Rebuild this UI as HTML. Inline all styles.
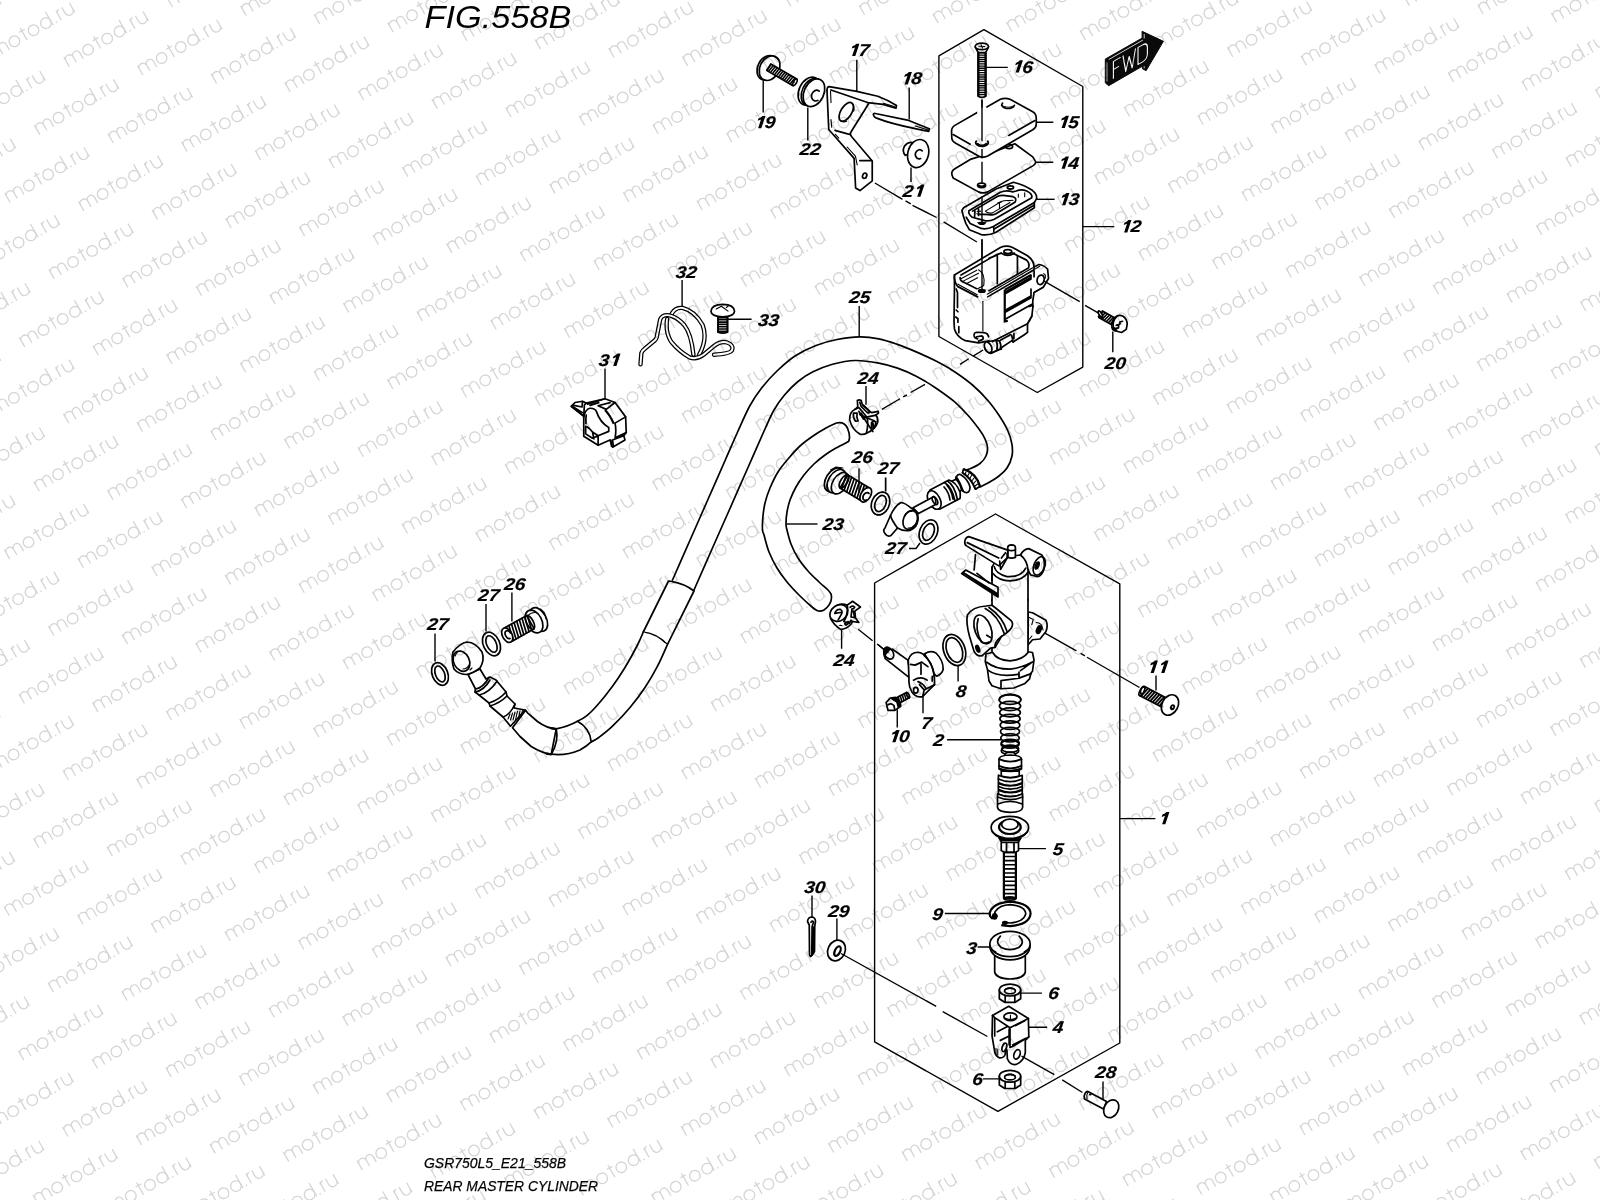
<!DOCTYPE html>
<html><head><meta charset="utf-8"><title>FIG.558B REAR MASTER CYLINDER</title>
<style>
html,body{margin:0;padding:0;background:#fff;}
body{width:1600px;height:1200px;overflow:hidden;font-family:"Liberation Sans",sans-serif;}
svg{display:block;position:absolute;left:0;top:0;}
svg text{font-family:"Liberation Sans",sans-serif;}
.l{fill:none;stroke:#000;stroke-width:1.4;stroke-linecap:butt;stroke-linejoin:round;}
.p{fill:none;stroke:#000;stroke-width:1.7;stroke-linecap:round;stroke-linejoin:round;}
.pf{fill:#fff;stroke:#000;stroke-width:1.7;stroke-linecap:round;stroke-linejoin:round;}
.p2{fill:none;stroke:#000;stroke-width:2.2;stroke-linecap:butt;}
.t4{fill:none;stroke:#000;stroke-width:1.8;stroke-linecap:butt;}
.t3{fill:none;stroke:#000;stroke-width:1.55;stroke-linecap:butt;}
.t2{fill:none;stroke:#000;stroke-width:1.35;stroke-linecap:butt;}
.t{fill:none;stroke:#000;stroke-width:1.1;stroke-linecap:round;stroke-linejoin:round;}
.k{fill:#000;stroke:none;}
.n{font-weight:bold;font-style:italic;font-size:17px;fill:#000;stroke:#000;stroke-width:0.18;}
.z *{vector-effect:non-scaling-stroke;}
</style></head><body>
<svg width="1600" height="1200" viewBox="0 0 1600 1200">
<defs>
<g id="wm" fill="none" stroke="#d5d5d5" stroke-width="1.3" stroke-linecap="butt">
<path d="M0,0V-11 M0,-6.6a4.1,4.1 0 0 1 8.2,0V0 M8.2,-6.6a3.9,3.9 0 0 1 7.8,0V0"/>
<circle cx="24.7" cy="-5.3" r="5.3"/>
<path d="M36.3,0V-14 M33.2,-10.6H39.6"/>
<circle cx="46.8" cy="-5.3" r="5.3"/>
<circle cx="61" cy="-5.3" r="5.3"/>
<path d="M66.3,0V-15.4"/>
<path d="M70.6,-1.4V0" stroke-width="1.5"/>
<path d="M75.9,0V-11 M75.9,-7.2c0,-2.6 1.4,-3.6 3.4,-3.6"/>
<path d="M82.6,-11V-4.4a4.4,4.4 0 0 0 8.8,0V-11 M91.4,-4.4V0"/>
</g>
</defs>
<rect width="1600" height="1200" fill="#fff"/>
<g id="drawing" style="opacity:0.999">
<text x="424.5" y="28" font-style="italic" font-size="32" textLength="147" lengthAdjust="spacingAndGlyphs">FIG.558B</text>
<text x="424" y="1168" font-style="italic" font-size="15.5" stroke="#000" stroke-width="0.25" textLength="142" lengthAdjust="spacingAndGlyphs">GSR750L5_E21_558B</text>
<text x="424" y="1190.8" font-style="italic" font-size="15.5" stroke="#000" stroke-width="0.25" textLength="174" lengthAdjust="spacingAndGlyphs">REAR MASTER CYLINDER</text>

<path class="l" d="M983.9,29.6 L938.9,55.9 V336.5 L1037.3,392.5 L1082.8,367.1 V86.5 Z"/><path d="M1105.3,59.1 L1142.1,38.1 V31.3 L1163.4,41.3 L1146.1,70.7 L1142.4,68.7 V66.2 L1108.7,85.7 L1105.3,82.9 Z" fill="#0a0a0a" stroke="#0a0a0a" stroke-width="1" stroke-linejoin="round"/><path d="M1107,62.5 V81.5" stroke="#bbb" stroke-width="0.9" fill="none"/><path d="M1108.8,59.5 L1143,40 M1144.2,34 V38.5 M1144.2,66.3 V68.2" stroke="#fff" stroke-width="0.8" fill="none"/><g transform="translate(1112.4,79) skewY(-29.6)" fill="none" stroke="#fff" stroke-width="1.1" stroke-linecap="round" stroke-linejoin="round"><path d="M1,0 V-17 H7.8 M1,-9 H6.2 M10.6,-17 L13.4,0 L16.7,-13 L19.8,0 L23,-17 M25.6,0 V-17 H30 Q35,-17 35,-11.5 V-5.5 Q35,0 30,0 Z"/></g>
<path class="l" d="M995.5,514 L874.6,583 V1041.8 L997.9,1111.3 L1119.8,1043 V583.9 Z"/><path class="l" d="M1120,818.6 H1155.4"/><g transform="translate(1157.7,824.3) skewX(-7)"><path transform="translate(0,0) skewX(-12)" d="M4.6,-12.3 H7.6 V0 H4.4 V-8.6 L1.5,-7.4 V-9.7 Q3.8,-10.6 4.6,-12.3 Z" fill="#000"/></g>
<g class="z " transform="translate(740,40) scale(0.0875)">
<ellipse class="pf" cx="313" cy="318" rx="110" ry="148" transform="rotate(28 313 318)"/><ellipse class="pf" cx="338" cy="322" rx="110" ry="148" transform="rotate(28 338 322)"/><path class="t" d="M372,183 Q425,200 440,235"/><path class="pf" d="M308.005,350.108 L606.005,522.108 L649.995,445.892 L351.995,273.892 Z"/><path class="t3" d="M302.3,346.8 L357.7,277.2 M324.8,359.8 L380.2,290.2 M347.3,372.8 L402.7,303.2 M369.8,385.8 L425.3,316.2 M392.4,398.8 L447.8,329.2 M414.9,411.8 L470.3,342.2 M437.4,424.8 L492.8,355.2 M459.9,437.8 L515.3,368.2 M482.4,450.8 L537.9,381.2 M505.0,463.8 L560.4,394.2 M527.5,476.8 L582.9,407.2 M550.0,489.8 L605.4,420.2 M572.5,502.8 L627.9,433.2 M595.0,515.8 L650.4,446.2 "/><ellipse class="pf" cx="628" cy="484" rx="18" ry="42" transform="rotate(30 628 484)"/><path class="t" d="M600,470 L622,482"/><ellipse class="pf" cx="790" cy="585" rx="115" ry="168" transform="rotate(25 790 585)"/><ellipse class="pf" cx="822" cy="596" rx="112" ry="165" transform="rotate(25 822 596)"/><ellipse class="pf" cx="845" cy="603" rx="113" ry="166" transform="rotate(25 845 603)"/><path class="p" d="M905,585 A52,62 20 1 0 890,690"/>
</g>

<g class="z " transform="translate(820,70) scale(0.0875)">
<path class="p" d="M80,235 Q80,190 105,190 L420,245 L660,300 Q780,345 875,405 L868,437 Q780,410 720,393 L545,372 L125,228"/><path class="t" d="M725,380 L858,421"/><path class="p" d="M80,235 L100,680 L390,1010 L407,1348 L457,1378 L597,1268 L597,1040 L360,760 Q338,732 352,712 L555,385"/><path class="t" d="M120,240 L126,372 M126,565 L134,655 M175,735 L215,778 M310,880 L405,985 L425,1085"/><path class="p" d="M172,690 L335,735 M455,1035 L590,1035"/><ellipse class="p" cx="300" cy="478" rx="62" ry="120" transform="rotate(32 300 478)"/><path class="t" d="M368,385 Q400,420 385,470 M240,585 Q270,600 305,585"/><ellipse class="p" cx="510" cy="1208" rx="22" ry="32" transform="rotate(25 510 1208)"/><path class="t" d="M535,1190 Q545,1215 525,1240"/><path class="p" d="M612,515 Q603,493 632,497 L1000,572 L1250,672 L1243,702 L1100,672 Q800,612 640,547 Q615,535 612,515 Z"/><path class="t" d="M1090,641 L1238,687"/><path class="pf" d="M1065,832 Q1010,815 965,870 Q935,930 975,975 L1005,965"/><ellipse class="pf" cx="1122" cy="955" rx="118" ry="163" transform="rotate(15 1122 955)"/><path class="p" d="M1168,925 A45,52 15 1 0 1150,1012"/>
</g>

<g class="z " transform="translate(940,35) scale(0.0875)">
<path class="l" d="M480,742 V1210"/><path class="pf" d="M437,200 V700 Q480,725 522,700 V200 Z"/><path class="t2" d="M439.0,205.0 L521.0,205.0 M439.0,230.0 L521.0,230.0 M439.0,255.0 L521.0,255.0 M439.0,280.0 L521.0,280.0 M439.0,305.0 L521.0,305.0 M439.0,330.0 L521.0,330.0 M439.0,355.0 L521.0,355.0 M439.0,380.0 L521.0,380.0 M439.0,405.0 L521.0,405.0 M439.0,430.0 L521.0,430.0 M439.0,455.0 L521.0,455.0 M439.0,480.0 L521.0,480.0 M439.0,505.0 L521.0,505.0 M439.0,530.0 L521.0,530.0 M439.0,555.0 L521.0,555.0 M439.0,580.0 L521.0,580.0 M439.0,605.0 L521.0,605.0 M439.0,630.0 L521.0,630.0 M439.0,655.0 L521.0,655.0 M439.0,680.0 L521.0,680.0 "/><path class="p2" d="M438,200 V702 M521,200 V702"/><path class="pf" d="M403,135 Q420,175 440,200 H520 Q540,175 555,135 Z"/><ellipse class="pf" cx="478" cy="130" rx="76" ry="38"/><path class="t" d="M445,128 L512,132 M470,112 L486,148"/>
</g>

<g class="z " transform="translate(940,100) scale(0.0875)">
<path class="pf" d="M355,675 L170,785 Q128,810 135,850 L150,892 L440,1050 Q490,1075 545,1050 L1065,750 Q1108,722 1085,690 L1060,650 L855,500 L600,600 Z"/><ellipse class="p" cx="790" cy="532" rx="40" ry="24"/><ellipse class="p" cx="475" cy="975" rx="46" ry="26"/><path class="p" d="M440,975 Q475,1000 512,975"/><path class="pf" d="M520,88 L690,-8 Q745,-30 800,-8 L1060,135 Q1100,160 1100,205 V280 Q1100,315 1060,340 L545,640 Q490,665 440,640 L180,495 Q138,470 135,440 L132,360 Q130,315 170,290 L430,140 Z"/><path d="M425,100 L530,75 L530,160 L425,160Z" fill="#fff" stroke="none"/><path class="p" d="M150,395 L345,505 M1085,235 L785,405"/><path class="p" d="M545,470 A72,42 0 1 1 415,470 M430,500 Q478,540 528,500"/><path class="p" d="M850,60 A72,42 0 1 1 715,35"/><path class="t" d="M728,70 Q780,95 832,70"/><path class="l" d="M480,-10 V470 M480,560 V668 M480,705 V950"/>
</g>

<g class="z " transform="translate(940,170) scale(0.0875)">
<path class="pf" d="M640,218 L840,140 Q960,170 1055,232 Q1110,275 1105,325 L1078,372 L1078,432 L640,712 Q560,752 470,738 L335,682 L295,610 L268,530 L250,462 L270,432 Z"/><path class="p" d="M1078,372 L610,645 Q540,682 470,668 L345,612 L300,540 M1078,400 L625,672 M615,660 V705"/><path class="p" d="M330,465 L690,255 Q760,225 830,250 L872,240 Q930,215 990,240 Q1062,272 1048,318 L620,562 Q560,592 500,575 L368,540 Q320,502 330,465 Z"/><path class="p" d="M372,470 L660,300 Q700,285 745,292 L835,305 Q880,320 860,365 L640,500 Q600,520 560,510 L440,505 M400,455 L395,540 M440,440 L440,520"/><path class="t" d="M520,470 L700,360 Q740,345 790,350 L835,345 M520,470 Q540,500 600,490 L800,372"/><path class="t" d="M680,368 V440 M662,376 L700,366 M895,275 V312 M968,260 V305 M425,475 L465,470 M420,500 L470,512"/><ellipse class="k" cx="478" cy="608" rx="40" ry="20"/><path class="t" d="M432,600 Q478,640 525,600"/><ellipse class="p" cx="805" cy="200" rx="36" ry="18"/><path class="t" d="M775,205 Q805,225 838,205"/><path class="l" d="M480,300 V600 M480,790 V1210"/><path class="l" d="M1105,335 H1310"/>
</g>

<g class="z " transform="translate(940,240) scale(0.0875)">
<path class="pf" d="M165,400 L690,85 Q760,55 830,85 L1000,180 Q1075,235 1075,310 L1130,280 Q1185,285 1230,332 L1240,440 L1180,540 L1075,600 L1060,700 L1062,760 L1050,870 L1000,958 L1000,1056 L960,1086 L835,1166 L822,1150 L700,1232 Q705,1260 690,1246 L580,1296 Q540,1290 515,1250 L560,1152 L440,1176 L290,1151 Q190,1106 165,1016 L160,936 L165,560 Z"/><path class="p" d="M545,650 L1075,340 M1075,310 V420 M430,650 L200,530 Q158,470 165,400"/><path class="p" d="M230,430 Q225,470 290,492 L420,556 M560,580 L1010,320 Q1032,270 990,230 L830,150 M240,400 L640,170 L700,150 M560,210 L655,170"/><path class="t" d="M540,620 L1060,318 M205,505 L425,625"/><path class="p" d="M655,170 V500 M885,180 V392 M700,150 Q775,200 850,150"/><path class="t" d="M245,440 L420,345 M265,470 L440,380 M300,500 L430,432 M440,340 Q520,380 500,520 L430,556"/><ellipse class="p" cx="775" cy="135" rx="45" ry="24"/><path class="t" d="M735,140 Q775,165 818,140"/><ellipse class="k" cx="478" cy="582" rx="46" ry="25"/><path class="l" d="M480,-10 V570"/><path class="t" d="M490,700 V1040"/><path class="p" d="M185,560 L200,600 V770 M185,800 L205,820 M180,880 L205,900 V940 M215,990 V1060"/><path class="p2" d="M740,570 L1040,400 M740,570 V930 L775,925"/><path class="p" d="M750,592 L1040,427 M750,612 L1040,447 M750,800 L1040,640 M750,822 L1040,660 M750,902 L1050,735 M1040,400 V440 M1040,560 V660"/><path class="p" d="M1020,760 Q1060,740 1062,760 M1050,870 L1000,958 L600,1160"/><ellipse class="p" cx="1150" cy="455" rx="40" ry="55" transform="rotate(15 1150 455)"/><path class="t" d="M1180,540 L1075,600 M1140,300 L1090,330 M1185,385 Q1215,395 1200,440"/><path class="p" d="M555,1106 Q545,1061 500,1058 L420,1054 Q385,1058 390,1096 Q395,1126 430,1131 M420,1106 L480,1096 Q500,1106 490,1136 L440,1156"/><ellipse class="pf" cx="550" cy="1226" rx="38" ry="64" transform="rotate(-25 550 1226)"/><path class="p" d="M560,1160 L640,1146 L680,1156 Q705,1206 690,1246 L585,1292 M640,1146 Q665,1200 650,1262 M690,1146 L810,1081 M845,1066 V1126 M820,1090 L835,1166"/>
</g>

<g class="z " transform="translate(1060,270) scale(0.0625)">
<path class="pf" d="M620.539,760.269 L840.539,884.269 L899.461,779.731 L679.461,655.731 Z"/><path class="t3" d="M607.5,752.9 L692.5,663.1 M640.6,771.6 L725.6,681.8 M673.7,790.2 L758.7,700.4 M706.8,808.9 L791.8,719.1 M739.9,827.5 L824.9,737.7 M773.0,846.2 L858.0,756.4 M806.1,864.9 L891.2,775.0 "/><ellipse class="pf" cx="645" cy="705" rx="22" ry="58" transform="rotate(-30 645 705)"/><path class="pf" d="M880,760 Q935,705 1010,740 Q1075,790 1075,870 L1060,950 L985,1000 L880,972 Q820,950 830,880 Q835,800 880,760 Z"/><path class="p" d="M905,745 Q850,800 850,880 Q850,940 880,972 M900,885 L960,865 L958,832 L1000,820 M890,935 L935,925 L940,880 M870,930 L905,962"/>
</g>

<g class="z " transform="translate(630,290) scale(0.0875)">
<path d="M470,285 Q510,195 600,205 Q740,240 830,400 Q890,560 790,740" fill="none" stroke="#000" stroke-width="4.4" stroke-linecap="round" stroke-linejoin="round"/><path d="M470,285 Q510,195 600,205 Q740,240 830,400 Q890,560 790,740" fill="none" stroke="#fff" stroke-width="1.9" stroke-linecap="round" stroke-linejoin="round"/><path d="M120,850 L130,720 Q140,690 165,675 L285,575 Q300,560 305,540 L345,335 Q365,285 430,287 Q530,300 620,400 Q700,500 725,740" fill="none" stroke="#000" stroke-width="4.4" stroke-linecap="round" stroke-linejoin="round"/><path d="M120,850 L130,720 Q140,690 165,675 L285,575 Q300,560 305,540 L345,335 Q365,285 430,287 Q530,300 620,400 Q700,500 725,740" fill="none" stroke="#fff" stroke-width="1.9" stroke-linecap="round" stroke-linejoin="round"/><path d="M425,330 Q400,480 470,590 Q560,700 680,770 Q760,800 840,740 L960,640 Q1040,580 1110,600 Q1190,630 1165,690 Q1140,730 960,740" fill="none" stroke="#000" stroke-width="4.4" stroke-linecap="round" stroke-linejoin="round"/><path d="M425,330 Q400,480 470,590 Q560,700 680,770 Q760,800 840,740 L960,640 Q1040,580 1110,600 Q1190,630 1165,690 Q1140,730 960,740" fill="none" stroke="#fff" stroke-width="1.9" stroke-linecap="round" stroke-linejoin="round"/><path class="pf" d="M1006,315 L1006,480 L1114,480 L1114,315 Z"/><path class="t3" d="M1006.0,315.0 L1114.0,315.0 M1006.0,341.0 L1114.0,341.0 M1006.0,367.0 L1114.0,367.0 M1006.0,393.0 L1114.0,393.0 M1006.0,419.0 L1114.0,419.0 M1006.0,445.0 L1114.0,445.0 M1006.0,471.0 L1114.0,471.0 "/><path class="p" d="M1006,310 V482 Q1060,505 1114,482 V310"/><path class="pf" d="M925,245 Q930,168 1060,165 Q1190,168 1195,245 Q1190,302 1060,308 Q930,302 925,245 Z"/><path class="t" d="M985,218 L1045,185 L1120,242 M1100,200 L1120,185"/>
</g>

<g class="z " transform="translate(555,380) scale(0.0625)">
<path class="pf" d="M800,300 L960,360 L1130,590 L1140,840 L1100,890 L1120,960 L920,1075 L880,960 L690,1045 L460,900 L460,580 L260,420 L320,360 L440,340 L500,370 Z"/><path class="p" d="M820,470 L960,360 M960,690 L1130,590 M960,690 Q985,790 962,925 L1140,840 M920,960 L1100,890 M920,960 L935,1062 M890,960 L905,1060"/><path class="p2" d="M940,700 Q880,560 800,480"/><path class="p" d="M520,385 L800,300 M560,405 L700,362 M690,412 L880,362 M690,412 L820,470 M500,370 L470,400 L460,580"/><path class="p" d="M462,590 Q480,470 560,452 Q640,450 662,502 Q720,680 860,760 V822 L690,892 L600,832 M490,742 V862 L600,932 L690,892 M490,742 Q530,745 600,832 L622,942 M690,892 V1040 M500,560 Q490,620 495,700"/><path class="p" d="M262,422 L440,562 M282,402 L432,432 L440,345 M300,435 L440,522"/>
</g>

<path d="M672.5,580.0 C675.4,573.3 684.2,553.3 690.1,540.0 C696.0,526.7 701.8,513.3 707.7,500.0 C713.6,486.7 720.3,471.3 725.3,460.0 C730.3,448.7 733.5,441.1 737.6,432.0 C741.7,422.9 745.9,412.9 750.0,405.5 C754.1,398.1 757.5,393.2 762.0,387.5 C766.5,381.8 771.5,376.2 777.0,371.0 C782.5,365.8 788.5,360.2 795.0,356.0 C801.5,351.8 809.0,348.2 816.0,345.5 C823.0,342.8 829.8,340.9 837.0,339.5 C844.2,338.1 852.5,336.9 859.5,336.8 C866.5,336.7 872.4,337.5 878.8,338.8 C885.1,340.0 891.2,342.2 897.5,344.4 C903.8,346.6 910.0,349.2 916.2,351.9 C922.5,354.6 928.8,357.4 935.0,360.6 C941.2,363.8 947.5,367.2 953.8,371.2 C960.0,375.3 966.9,380.2 972.5,385.0 C978.1,389.8 983.1,395.0 987.5,400.0 C991.9,405.0 995.4,410.0 998.8,415.0 C1002.1,420.0 1005.3,425.2 1007.5,430.0 C1009.7,434.8 1011.1,439.4 1011.9,443.8 C1012.6,448.1 1012.8,452.0 1012.0,456.0 C1011.2,460.0 1009.2,464.7 1007.0,468.0 C1004.8,471.3 1002.2,473.5 999.0,476.0 C995.8,478.5 991.2,481.2 988.0,483.0 C984.8,484.8 981.3,486.3 980.0,487.0 L963.5,471.0 C964.6,470.6 967.2,470.0 970.0,468.8 C972.8,467.5 977.3,465.6 980.0,463.5 C982.7,461.4 984.8,458.7 986.0,456.0 C987.2,453.3 987.7,450.4 987.5,447.5 C987.3,444.6 986.5,441.9 985.0,438.8 C983.5,435.6 981.5,432.5 978.8,428.8 C976.0,425.0 972.9,420.8 968.8,416.2 C964.6,411.7 959.4,406.0 953.8,401.2 C948.1,396.5 941.2,391.7 935.0,387.5 C928.8,383.3 922.5,379.5 916.2,376.2 C910.0,373.0 903.8,370.3 897.5,368.1 C891.2,365.9 885.8,364.4 878.8,363.1 C871.7,361.8 862.7,360.3 855.0,360.5 C847.3,360.7 839.5,362.4 832.5,364.2 C825.5,366.1 818.8,368.9 813.0,371.8 C807.2,374.6 802.8,377.6 798.0,381.5 C793.2,385.4 788.5,390.2 784.5,395.0 C780.5,399.8 777.3,404.2 774.0,410.0 C770.7,415.8 769.1,420.0 764.5,430.0 C760.0,440.0 752.8,456.7 746.9,470.0 C741.0,483.3 735.1,496.7 729.3,510.0 C723.4,523.3 717.5,536.7 711.6,550.0 C705.8,563.3 696.9,583.3 694.0,590.0 Z" fill="#fff" stroke="none"/><path class="p" d="M672.5,580.0 C675.4,573.3 684.2,553.3 690.1,540.0 C696.0,526.7 701.8,513.3 707.7,500.0 C713.6,486.7 720.3,471.3 725.3,460.0 C730.3,448.7 733.5,441.1 737.6,432.0 C741.7,422.9 745.9,412.9 750.0,405.5 C754.1,398.1 757.5,393.2 762.0,387.5 C766.5,381.8 771.5,376.2 777.0,371.0 C782.5,365.8 788.5,360.2 795.0,356.0 C801.5,351.8 809.0,348.2 816.0,345.5 C823.0,342.8 829.8,340.9 837.0,339.5 C844.2,338.1 852.5,336.9 859.5,336.8 C866.5,336.7 872.4,337.5 878.8,338.8 C885.1,340.0 891.2,342.2 897.5,344.4 C903.8,346.6 910.0,349.2 916.2,351.9 C922.5,354.6 928.8,357.4 935.0,360.6 C941.2,363.8 947.5,367.2 953.8,371.2 C960.0,375.3 966.9,380.2 972.5,385.0 C978.1,389.8 983.1,395.0 987.5,400.0 C991.9,405.0 995.4,410.0 998.8,415.0 C1002.1,420.0 1005.3,425.2 1007.5,430.0 C1009.7,434.8 1011.1,439.4 1011.9,443.8 C1012.6,448.1 1012.8,452.0 1012.0,456.0 C1011.2,460.0 1009.2,464.7 1007.0,468.0 C1004.8,471.3 1002.2,473.5 999.0,476.0 C995.8,478.5 991.2,481.2 988.0,483.0 C984.8,484.8 981.3,486.3 980.0,487.0 "/><path class="p" d="M694.0,590.0 C696.9,583.3 705.8,563.3 711.6,550.0 C717.5,536.7 723.4,523.3 729.3,510.0 C735.1,496.7 741.0,483.3 746.9,470.0 C752.8,456.7 760.0,440.0 764.5,430.0 C769.1,420.0 770.7,415.8 774.0,410.0 C777.3,404.2 780.5,399.8 784.5,395.0 C788.5,390.2 793.2,385.4 798.0,381.5 C802.8,377.6 807.2,374.6 813.0,371.8 C818.8,368.9 825.5,366.1 832.5,364.2 C839.5,362.4 847.3,360.7 855.0,360.5 C862.7,360.3 871.7,361.8 878.8,363.1 C885.8,364.4 891.2,365.9 897.5,368.1 C903.8,370.3 910.0,373.0 916.2,376.2 C922.5,379.5 928.8,383.3 935.0,387.5 C941.2,391.7 948.1,396.5 953.8,401.2 C959.4,406.0 964.6,411.7 968.8,416.2 C972.9,420.8 976.0,425.0 978.8,428.8 C981.5,432.5 983.5,435.6 985.0,438.8 C986.5,441.9 987.3,444.6 987.5,447.5 C987.7,450.4 987.2,453.3 986.0,456.0 C984.8,458.7 982.7,461.4 980.0,463.5 C977.3,465.6 972.8,467.5 970.0,468.8 C967.2,470.0 964.6,470.6 963.5,471.0 "/><path class="pf" d="M668.5,581 L643.3,632 Q657,633.5 667.4,644.6 L694,591 Q684,583 668.5,581 Z"/><path d="M643.3,632.0 C642.3,634.2 640.5,639.1 637.5,645.0 C634.5,650.9 629.2,660.6 625.0,667.5 C620.8,674.4 617.1,680.0 612.5,686.2 C607.9,692.5 601.9,700.0 597.5,705.0 C593.1,710.0 589.6,713.5 586.2,716.2 C582.9,718.9 579.0,720.4 577.5,721.2 L591.2,741.9 C592.5,741.2 595.2,740.1 598.8,737.5 C602.3,734.9 607.3,731.2 612.5,726.2 C617.7,721.2 624.6,714.0 630.0,707.5 C635.4,701.0 640.4,694.4 645.0,687.5 C649.6,680.6 653.8,673.4 657.5,666.2 C661.2,659.1 665.8,648.2 667.4,644.6 Z" fill="#fff" stroke="none"/><path class="p" d="M643.3,632.0 C642.3,634.2 640.5,639.1 637.5,645.0 C634.5,650.9 629.2,660.6 625.0,667.5 C620.8,674.4 617.1,680.0 612.5,686.2 C607.9,692.5 601.9,700.0 597.5,705.0 C593.1,710.0 589.6,713.5 586.2,716.2 C582.9,718.9 579.0,720.4 577.5,721.2 "/><path class="p" d="M667.4,644.6 C665.8,648.2 661.2,659.1 657.5,666.2 C653.8,673.4 649.6,680.6 645.0,687.5 C640.4,694.4 635.4,701.0 630.0,707.5 C624.6,714.0 617.7,721.2 612.5,726.2 C607.3,731.2 602.3,734.9 598.8,737.5 C595.2,740.1 592.5,741.2 591.2,741.9 "/>
<path class="pf" d="M836.5,423.0 C834.8,423.8 829.9,425.8 826.0,428.0 C822.1,430.2 817.3,433.0 813.0,436.0 C808.7,439.0 804.2,442.2 800.0,446.0 C795.8,449.8 791.7,454.7 788.0,459.0 C784.3,463.3 781.0,467.2 778.0,472.0 C775.0,476.8 772.2,482.8 770.0,488.0 C767.8,493.2 766.2,498.0 765.0,503.0 C763.8,508.0 763.2,513.5 762.8,518.0 C762.4,522.5 762.3,527.2 762.5,530.0 C762.7,532.8 762.9,531.3 764.0,535.0 C765.1,538.7 766.8,546.5 769.0,552.0 C771.2,557.5 774.0,563.0 777.0,568.0 C780.0,573.0 783.2,577.3 787.0,582.0 C790.8,586.7 795.8,591.8 800.0,596.0 C804.2,600.2 809.2,604.6 812.0,607.0 C814.8,609.4 816.2,609.9 817.0,610.5 Q820,612 824,610 Q831,605 831.5,598 Q831.5,595 831,594 L831.0,594.0 C830.5,593.3 830.0,592.0 828.0,590.0 C826.0,588.0 822.3,585.2 819.0,582.0 C815.7,578.8 811.5,575.0 808.0,571.0 C804.5,567.0 800.8,562.5 798.0,558.0 C795.2,553.5 792.8,548.7 791.0,544.0 C789.2,539.3 787.8,533.3 787.0,530.0 C786.2,526.7 786.0,527.0 786.0,524.0 C786.0,521.0 786.3,516.0 787.0,512.0 C787.7,508.0 788.5,504.2 790.0,500.0 C791.5,495.8 793.7,491.2 796.0,487.0 C798.3,482.8 801.0,478.8 804.0,475.0 C807.0,471.2 810.5,467.3 814.0,464.0 C817.5,460.7 821.3,457.7 825.0,455.0 C828.7,452.3 832.1,450.2 836.0,448.0 C839.9,445.8 846.4,442.6 848.5,441.5 Q851,437 847.5,428 Q844,421 836.5,423Z"/><path class="l" d="M786.5,524 H817.5"/><g transform="translate(822.2,529.6) skewX(-7)"><text class="n" x="0" y="0" textLength="10.6" lengthAdjust="spacingAndGlyphs">2</text><text class="n" x="10.6" y="0" textLength="10.6" lengthAdjust="spacingAndGlyphs">3</text></g>
<path class="pf" d="M556.2,728.8 Q547,728.5 537.5,721.5 L527.5,712.8 L525.6,710.2 L512.5,727.8 L520,736.5 L531.2,746.5 Q542,753 551.2,754.4 Z"/><path class="pf" d="M577.5,721.2 Q568,726.5 556.2,728.8 Q559,741 551.4,754.2 Q566,756 580,750 Q587,746 591.2,741.9 Q590,728 577.5,721.2 Z"/><path class="p2" d="M551,728.2 L556.5,729.2 M546,753.6 L551.6,754.4"/>
<g class="z " transform="translate(420,600) scale(0.1)">
<ellipse class="pf" cx="200" cy="740" rx="78" ry="118" transform="rotate(-22 200 740)"/><ellipse class="p" cx="200" cy="740" rx="45.24" ry="84" transform="rotate(-22 200 740)"/><ellipse class="pf" cx="715" cy="440" rx="82" ry="124" transform="rotate(-25 715 440)"/><ellipse class="p" cx="715" cy="440" rx="47.56" ry="88" transform="rotate(-25 715 440)"/><ellipse class="pf" cx="1185" cy="195" rx="78" ry="128" transform="rotate(-28 1185 195)"/><ellipse class="pf" cx="1140" cy="215" rx="78" ry="122" transform="rotate(-28 1140 215)"/><path class="t" d="M1075,160 Q1110,120 1165,125 M1205,90 L1245,130 L1262,190"/><path class="pf" d="M922.088,411.336 L1142.09,288.336 L1067.91,155.664 L847.912,278.664 Z"/><path class="p" d="M907.5,419.5 L862.5,270.5 M933.7,404.9 L888.7,255.9 M959.9,390.2 L914.9,241.2 M986.0,375.6 L941.1,226.6 M1012.2,360.9 L967.2,211.9 M1038.4,346.3 L993.4,197.3 M1064.6,331.7 L1019.6,182.7 M1090.8,317.0 L1045.8,168.0 M1117.0,302.4 L1072.0,153.4 "/><ellipse class="p" cx="1100" cy="224" rx="34" ry="76" transform="rotate(-28 1100 224)"/><ellipse class="pf" cx="872" cy="352" rx="48" ry="78" transform="rotate(-28 872 352)"/><path class="p" d="M905,330 A28,42 -28 1 0 900,385"/><path class="pf" d="M480,745 L555,890 L550,920 L590,950 L690,1030 L700,1060 L830,1170 L905,1262 L1050,1100 L940,1080 L950,1040 L870,960 L860,920 L760,800 L700,770 L660,790 L600,690 Z"/><path class="p" d="M555,890 Q630,880 690,775 M552,920 Q640,905 700,800 M590,950 Q690,930 770,812 M690,1030 Q790,1000 860,920 M700,1060 Q800,1030 870,960 M830,1170 Q900,1150 950,1040"/><path class="t" d="M880,1190 L900,1140 M905,1200 L925,1130 M930,1200 L950,1120 M955,1200 L975,1112 M985,1190 L1000,1108 M1010,1170 L1025,1105"/><path class="pf" d="M330,520 Q400,430 470,420 Q560,425 620,520 Q650,600 600,680 Q520,740 460,745 Q380,740 340,690 Q310,600 330,520 Z"/><ellipse class="p" cx="415" cy="612" rx="78" ry="106" transform="rotate(-25 415 612)"/><path class="t" d="M352,560 Q370,500 420,515 M430,690 Q470,690 490,650 M500,700 L520,680"/>
</g>

<g class="z " transform="translate(870,440) scale(0.1)">
<path class="pf" d="M935,290 Q1060,330 1100,462 L1055,492 Q1010,380 925,328 Z"/><path class="p2" d="M935,290 Q1060,330 1100,462"/><path class="p" d="M925,328 Q1010,380 1055,492"/><path class="t" d="M960,318 L950,345 M990,335 L975,362 M1015,355 L998,385 M1040,380 L1018,410 M1058,410 L1035,436 M1075,440 L1048,462"/><path class="pf" d="M862,368 Q880,335 905,345 Q980,390 1000,470 Q1000,515 975,525 Q945,528 930,510 Q900,420 862,368 Z"/><path class="p" d="M862,368 Q850,395 870,420 Q910,470 930,510"/><path class="pf" d="M800,420 L860,392 Q905,440 915,500 L880,540 Z"/><path class="pf" d="M600,500 L790,400 Q860,420 900,520 Q905,560 900,585 L700,690 Q640,700 590,640 Q560,560 600,500 Z"/><path class="p" d="M745,425 Q820,470 850,610 M775,410 Q845,450 875,598 M740,470 Q790,520 800,600 M770,455 Q815,500 830,590"/><ellipse class="pf" cx="642" cy="600" rx="58" ry="100" transform="rotate(-28 642 600)"/><path class="pf" d="M430,678 L640,566 Q665,590 655,645 L485,736 Z"/><ellipse class="p" cx="650" cy="606" rx="22" ry="44" transform="rotate(-28 650 606)"/><path class="pf" d="M310,625 Q250,655 205,755 L150,880 Q125,905 150,935 Q175,975 210,955 L275,880 Q330,915 400,905 Q470,880 480,800 Q485,740 460,712 L400,672 Q350,630 310,625 Z"/><path class="p" d="M205,755 Q215,800 275,880"/><ellipse class="p" cx="402" cy="800" rx="68" ry="98" transform="rotate(22 402 800)"/><path class="t" d="M350,760 Q370,705 420,715 M380,880 Q420,885 445,850"/><ellipse class="pf" cx="105" cy="635" rx="78" ry="116" transform="rotate(22 105 635)"/><ellipse class="p" cx="105" cy="635" rx="46.8" ry="82" transform="rotate(22 105 635)"/><ellipse class="pf" cx="585" cy="920" rx="88" ry="126" transform="rotate(22 585 920)"/><ellipse class="p" cx="585" cy="920" rx="52.8" ry="88" transform="rotate(22 585 920)"/>
</g>

<g class="z " transform="translate(740,420) scale(0.1)">
<ellipse class="pf" cx="940" cy="598" rx="80" ry="130" transform="rotate(32 940 598)"/><ellipse class="pf" cx="965" cy="612" rx="80" ry="128" transform="rotate(32 965 612)"/><ellipse class="pf" cx="1000" cy="632" rx="72" ry="118" transform="rotate(32 1000 632)"/><path class="t" d="M905,500 L960,470 L1030,480 M870,640 L880,690"/><path class="pf" d="M1000.68,680.036 L1215.68,810.036 L1294.32,679.964 L1079.32,549.964 Z"/><path class="p" d="M1015.0,688.7 L1065.0,541.3 M1040.7,704.2 L1090.7,556.8 M1066.3,719.7 L1116.4,572.4 M1092.0,735.3 L1142.0,587.9 M1117.7,750.8 L1167.7,603.4 M1143.3,766.3 L1193.4,618.9 M1169.0,781.8 L1219.0,634.4 M1194.7,797.3 L1244.7,650.0 M1220.4,812.9 L1270.4,665.5 "/><ellipse class="p" cx="1040" cy="615" rx="34" ry="76" transform="rotate(32 1040 615)"/><ellipse class="pf" cx="1258" cy="748" rx="48" ry="80" transform="rotate(32 1258 748)"/><path class="p" d="M1290,735 A28,42 32 1 0 1262,800"/><ellipse class="pf" cx="1405" cy="835" rx="88" ry="118" transform="rotate(22 1405 835)"/><ellipse class="p" cx="1405" cy="835" rx="52.8" ry="84" transform="rotate(22 1405 835)"/>
</g>

<g class="z " transform="translate(840,392) scale(0.045)">
<path class="pf" d="M335,385 Q205,450 215,620 Q265,830 440,935 Q520,960 590,915 Q790,830 838,670 Q850,570 795,515 L855,470 L850,430 L700,460 L500,290 L470,190 Q430,160 385,190 L395,330 Z"/><path class="p" d="M300,470 Q280,560 345,650 L400,640 Q360,560 380,470 Z"/><path class="p" d="M335,385 L420,345 L600,560 L795,515 M600,560 Q640,700 585,915 M440,500 L600,580"/><path class="p" d="M440,230 L470,320 L600,450 Q640,480 660,450 Q640,400 560,330 L520,290"/><path class="p" d="M700,680 Q740,640 800,660 L770,790 Q720,810 700,790 Z M735,700 L742,780"/><path class="p" d="M470,470 Q560,640 730,880 M420,430 Q470,520 520,600 M560,560 L760,640"/>
</g>

<g class="z " transform="translate(815,590) scale(0.045)">
<path class="pf" d="M345,630 Q420,780 570,875 Q700,870 800,760 L830,700 L975,720 L900,620 L885,470 L1010,378 L835,250 L715,335 Q500,250 350,480 Z"/><ellipse class="pf" cx="530" cy="512" rx="212" ry="172" transform="rotate(-35 530 512)"/><path class="p" d="M715,335 Q740,430 700,560 Q680,640 640,700 L760,740 L800,670 L830,700 M780,385 Q830,330 880,382 Q850,432 822,420 L800,600 L880,612 L852,470"/><path class="p" d="M440,520 Q470,420 565,430 Q625,470 585,540 L515,665 M440,520 L565,500"/><path class="p" d="M660,750 L740,700 L770,730 L690,780 Z"/><path class="k" d="M520,795 Q570,750 625,805 Z"/>
</g>

<g class="z " transform="translate(950,525) scale(0.075)">
<path class="pf" d="M940,400 Q980,320 1050,315 L1225,400 Q1275,480 1250,600 Q1220,680 1170,690 L1075,665 L1040,600 Z"/><ellipse class="p" cx="1190" cy="545" rx="72" ry="128" transform="rotate(22 1190 545)"/><ellipse class="k" cx="1162" cy="540" rx="32" ry="60" transform="rotate(22 1162 540)"/><path d="M560,1010 V560 Q600,470 700,430 L940,400 Q1030,470 1040,600 V1010 Z" fill="#fff" stroke="none"/><path class="p" d="M560,1010 V560 Q600,470 700,430 L940,400 Q1030,470 1040,600 V1010"/><path class="p" d="M590,555 Q610,650 760,688 Q950,700 1010,575 M565,640 Q650,745 800,745 Q980,735 1040,630"/><path class="pf" d="M770,300 Q770,268 820,266 Q872,268 872,300 V432 Q820,452 770,432 Z"/><path class="p" d="M770,330 Q820,356 872,330"/><path class="pf" d="M250,155 L770,335 L770,430 L650,545 L215,275 Q188,250 200,205 Q210,165 250,155 Z"/><path class="p" d="M230,235 L650,440"/><path class="p" d="M740,370 L685,440 M762,380 V440 L675,592 L662,480"/><path class="p" d="M340,395 L322,600 M560,560 L560,740"/><path class="pf" d="M210,600 L640,830 V960 L155,648 Z"/><path class="k" d="M160,640 L185,625 L640,905 L635,962 Z"/><path class="p" d="M360,645 L520,772"/>
</g>

<g class="z " transform="translate(950,600) scale(0.075)">
<path class="pf" d="M1040,160 L1100,170 L1280,270 Q1310,340 1280,420 L1200,520 L1100,530 L1040,600 Z"/><ellipse class="k" cx="1185" cy="395" rx="38" ry="64" transform="rotate(22 1185 395)"/><path class="t" d="M1050,230 L1110,260 L1090,330 M1060,520 L1092,480 M1150,300 Q1230,300 1240,400"/><path d="M560,-10 V700 L480,720 L470,820 L500,930 L520,1080 L560,1143 L680,1183 L850,1173 L1000,1113 L1060,1053 L1080,973 L1100,950 L1120,800 L1100,700 L1040,690 V-10 Z" fill="#fff" stroke="none"/><path class="p" d="M560,-10 V700 L480,720 L470,820 L500,930 L520,1080 L560,1143 L680,1183 L850,1173 L1000,1113 L1060,1053 L1080,973 L1100,950 L1120,800 L1100,700 L1040,690 V-10"/><path class="p" d="M570,700 Q620,800 800,812 Q980,792 1040,700 M490,830 Q600,922 800,922 Q960,902 1105,822 M505,935 Q640,1035 905,992 M940,942 L1092,832 M920,962 V1042 L1082,982 M680,1080 V1180 M680,1076 L940,1040"/><path class="pf" d="M480,80 L560,70 L600,100 L815,275 Q850,310 820,370 Q780,430 690,482 L600,632 L540,642 L430,742 Q360,762 320,682 L260,482 Q210,300 232,200 Q300,92 480,80 Z"/><path class="p" d="M470,112 Q640,200 722,442 M520,100 Q700,222 762,422 M600,632 Q590,560 690,482"/><ellipse class="p" cx="440" cy="392" rx="108" ry="200" transform="rotate(-20 440 392)"/><path class="p" d="M375,250 Q330,400 420,560 Q470,590 520,560 M490,470 L540,500"/><ellipse class="k" cx="370" cy="650" rx="32" ry="58" transform="rotate(-20 370 650)"/>
</g>

<g class="z " transform="translate(950,670) scale(0.075)">
<ellipse class="p" cx="800" cy="395" rx="145" ry="62"/><ellipse class="p" cx="800" cy="480" rx="141.5" ry="60.8"/><ellipse class="p" cx="800" cy="565" rx="138" ry="59.6"/><ellipse class="p" cx="800" cy="650" rx="134.5" ry="58.4"/><ellipse class="p" cx="800" cy="735" rx="131" ry="57.2"/><ellipse class="p" cx="800" cy="820" rx="127.5" ry="56"/><ellipse class="p" cx="800" cy="905" rx="124" ry="54.8"/><ellipse class="p" cx="800" cy="990" rx="120.5" ry="53.6"/><ellipse class="p" cx="800" cy="1075" rx="117" ry="52.4"/><path class="p" d="M660,395 Q660,330 800,322 Q940,330 945,395"/>
</g>

<g class="z " transform="translate(960,740) scale(0.075)">
<ellipse class="p" cx="670" cy="40" rx="120" ry="50"/><ellipse class="p" cx="670" cy="115" rx="112" ry="48"/><path class="pf" d="M600,200 Q600,165 670,162 Q740,165 740,200 V262 H600 Z"/><path class="pf" d="M520,255 Q520,205 670,200 Q820,205 820,255 V385 Q670,440 520,385 Z"/><path class="p" d="M520,255 Q670,320 820,255 M520,345 Q670,410 820,345"/><path class="p2" d="M522,385 Q670,440 818,385"/><path class="pf" d="M550,400 V480 Q670,520 790,480 V400 Q670,440 550,400 Z"/><path class="pf" d="M512,470 V720 Q670,790 830,720 V470 Q670,540 512,470 Z"/><path class="p" d="M512,520 Q670,590 830,520 M512,620 Q670,690 830,620"/><path class="p2" d="M512,575 Q670,645 830,575 M512,665 Q670,735 830,665"/><path class="pf" d="M500,720 V900 Q510,960 670,965 Q830,960 835,900 V720 Q670,790 500,720 Z"/><path class="p" d="M500,760 Q670,830 835,760 M515,850 Q670,790 820,850"/>
</g>

<g class="z " transform="translate(960,810) scale(0.075)">
<path class="pf" d="M585,565 L585,1180 L745,1180 L745,565 Z"/><path class="p" d="M585.0,565.0 L745.0,565.0 M585.0,620.0 L745.0,620.0 M585.0,675.0 L745.0,675.0 M585.0,730.0 L745.0,730.0 M585.0,785.0 L745.0,785.0 M585.0,840.0 L745.0,840.0 M585.0,895.0 L745.0,895.0 M585.0,950.0 L745.0,950.0 M585.0,1005.0 L745.0,1005.0 M585.0,1060.0 L745.0,1060.0 M585.0,1115.0 L745.0,1115.0 M585.0,1170.0 L745.0,1170.0 "/><path class="p2" d="M585,560 V1180 M745,560 V1180"/><ellipse class="p" cx="665" cy="1180" rx="80" ry="22"/><path class="pf" d="M550,430 H780 V540 L745,562 H585 L550,540 Z"/><path class="p" d="M620,430 V560 M720,430 V560"/><path class="pf" d="M520,375 L560,432 H775 L812,375 Z"/><path class="p2" d="M530,400 H800"/><ellipse class="pf" cx="665" cy="232" rx="250" ry="146"/><path class="p" d="M430,290 Q500,385 665,392 Q830,385 900,290"/><ellipse class="p2" cx="665" cy="228" rx="145" ry="92"/><ellipse class="pf" cx="665" cy="192" rx="110" ry="70"/>
</g>

<g class="z " transform="translate(870,620) scale(0.075)">
<ellipse class="pf" cx="1125" cy="400" rx="142" ry="215" transform="rotate(-20 1125 400)"/><ellipse class="p" cx="1125" cy="400" rx="102.24" ry="170" transform="rotate(-20 1125 400)"/><path class="pf" d="M730,450 Q800,400 880,440 Q980,540 975,660 Q960,720 890,750 L840,700 Z"/><path class="pf" d="M300,390 L505,535 L545,785 L200,512 Z"/><ellipse class="pf" cx="250" cy="442" rx="58" ry="86" transform="rotate(-32 250 442)"/><path class="k" d="M292,388 Q235,338 188,395 Q152,458 202,518 Q205,470 232,440 Q258,410 292,388 Z"/><path class="pf" d="M510,535 Q540,430 640,430 Q720,440 770,520 Q870,640 860,862 L700,1022 Q620,1042 560,962 Q510,872 520,792 Z"/><path class="p" d="M720,470 Q830,560 860,760 M680,590 V722 M540,592 L600,602 L690,562 L772,622 M580,802 Q680,742 762,802 M640,822 Q700,842 742,902 M660,862 L722,932 L860,862 M722,932 L702,1020 M830,750 V812"/><ellipse class="p" cx="610" cy="937" rx="30" ry="38"/><path class="pf" d="M378.95,1115.23 L523.95,1037.23 L486.05,966.773 L341.05,1044.77 Z"/><path class="t3" d="M370.1,1120.0 L349.9,1040.0 M397.4,1105.3 L377.2,1025.4 M424.7,1090.6 L404.5,1010.7 M452.0,1075.9 L431.8,996.0 M479.3,1061.2 L459.1,981.3 M506.6,1046.5 L486.4,966.6 "/><ellipse class="pf" cx="507" cy="1001" rx="14" ry="40" transform="rotate(-28 507 1001)"/><path class="pf" d="M215,1100 L270,1040 L340,1030 L400,1090 L410,1150 L330,1205 L240,1205 Z"/><path class="k" d="M270,1040 L340,1030 L400,1090 L410,1150 L370,1180 L350,1100 L300,1070 Z"/><path class="p" d="M240,1130 Q280,1100 320,1140 L330,1200"/>
</g>

<g class="z " transform="translate(1120,655) scale(0.05)">
<path class="pf" d="M397.184,813.228 L832.184,1041.23 L927.816,858.772 L492.816,630.772 Z"/><path class="t4" d="M374.4,801.3 L515.6,642.7 M420.4,825.4 L561.7,666.9 M466.5,849.6 L607.7,691.0 M512.5,873.7 L653.8,715.1 M558.6,897.8 L699.9,739.3 M604.7,922.0 L745.9,763.4 M650.7,946.1 L792.0,787.6 M696.8,970.3 L838.0,811.7 M742.8,994.4 L884.1,835.8 M788.9,1018.5 L930.1,860.0 "/><ellipse class="pf" cx="440" cy="720" rx="40" ry="103" transform="rotate(28 440 720)"/><path class="p" d="M480,640 Q430,640 410,720 Q410,780 440,800"/><ellipse class="pf" cx="1000" cy="1000" rx="160" ry="215" transform="rotate(28 1000 1000)"/><ellipse class="k" cx="1050" cy="1045" rx="48" ry="62" transform="rotate(28 1050 1045)"/><circle cx="1052" cy="1042" r="16" fill="#fff"/>
</g>

<g class="z " transform="translate(940,895) scale(0.0875)">
<path class="p2" d="M603,272 Q560,240 568,205 Q600,90 800,75 Q1035,95 1035,215 Q1020,340 800,355 Q740,352 700,345"/><path class="p" d="M652,240 Q615,215 630,190 Q680,115 800,110 Q975,125 980,215 Q960,305 800,320 L748,312"/><ellipse class="k" cx="625" cy="245" rx="32" ry="38"/><ellipse class="k" cx="742" cy="318" rx="34" ry="24"/><path class="pf" d="M625,700 V880 Q640,955 800,960 Q960,955 975,880 V700 Z"/><path class="pf" d="M570,560 V600 Q600,735 800,742 Q1000,735 1028,600 V560 Z"/><ellipse class="pf" cx="800" cy="560" rx="230" ry="145"/><path class="p" d="M690,470 Q620,540 700,600 Q800,650 900,600 Q980,540 905,470"/><path class="t" d="M575,610 L640,650 M960,650 L1025,605"/>
</g>

<g class="z " transform="translate(940,980) scale(0.0875)">
<path class="pf" d="M678,115 V215 L740,255 H860 L922,215 V115 Z"/><ellipse class="pf" cx="800" cy="115" rx="122" ry="68"/><ellipse class="p" cx="800" cy="125" rx="62" ry="32"/><path class="p" d="M745,110 A62,32 0 0 1 855,110"/><path class="p" d="M745,177 V253 M855,177 V253"/><path class="pf" d="M678,1100 V1200 L740,1240 H860 L922,1200 V1100 Z"/><ellipse class="pf" cx="800" cy="1100" rx="122" ry="68"/><ellipse class="p" cx="800" cy="1110" rx="62" ry="32"/><path class="p" d="M745,1095 A62,32 0 0 1 855,1095"/><path class="p" d="M745,1162 V1238 M855,1162 V1238"/><path class="pf" d="M600,405 L785,300 L1010,440 L1015,650 L975,690 L975,830 Q960,930 870,965 Q800,975 770,900 L765,800 Q745,780 745,850 Q735,890 680,890 Q625,870 620,790 L595,640 Z"/><path class="p" d="M600,405 L625,430 L800,545 L1010,440 M800,545 V770 M625,430 V640 M655,592 L770,532 M690,690 L790,640 M865,520 L970,465 M830,760 L1015,650 M830,742 L975,668 M800,770 L830,760 M790,560 V740"/><ellipse class="p" cx="805" cy="420" rx="75" ry="45"/><path class="t" d="M740,435 Q805,470 870,435 M805,400 V445"/><ellipse class="p" cx="735" cy="770" rx="24" ry="50" transform="rotate(20 735 770)"/><ellipse class="p" cx="880" cy="850" rx="34" ry="56" transform="rotate(20 880 850)"/><path class="t" d="M640,780 V850 M660,790 V860"/>
</g>

<g class="z " transform="translate(1060,1060) scale(0.05)">
<path class="pf" d="M560,630 L930,832 L870,982 L490,782 Q470,720 500,670 Q530,625 560,630 Z"/><path class="t" d="M560,640 Q520,700 540,780"/><ellipse class="k" cx="605" cy="692" rx="28" ry="20"/><ellipse class="pf" cx="1025" cy="975" rx="140" ry="188" transform="rotate(28 1025 975)"/>
</g>

<g class="z " transform="translate(795,905) scale(0.05)">
<path class="pf" d="M250,330 Q260,240 340,240 Q410,250 410,330 L395,420 L390,930 L345,1000 L310,1030 L290,1000 L285,400 Z"/><path class="k" d="M345,430 L395,420 L390,930 L345,1000 L335,1000 Z"/><path class="p" d="M320,345 Q340,300 372,340 L342,430 L335,1000"/><ellipse class="pf" cx="830" cy="910" rx="172" ry="212" transform="rotate(25 830 910)"/><ellipse class="p2" cx="850" cy="922" rx="52" ry="104" transform="rotate(25 850 922)"/>
</g>

<path class="l" d="M763.2,80.7 V112.6 M807.8,107.4 V140.6 M856.8,59.7 V91.6 M909.2,87.5 V119.4 M911,167.6 V181.9"/><g transform="translate(753.7,128.2) skewX(-7)"><path transform="translate(0,0) skewX(-12)" d="M4.6,-12.3 H7.6 V0 H4.4 V-8.6 L1.5,-7.4 V-9.7 Q3.8,-10.6 4.6,-12.3 Z" fill="#000"/><text class="n" x="10.6" y="0" textLength="10.6" lengthAdjust="spacingAndGlyphs">9</text></g><g transform="translate(799.2,154.8) skewX(-7)"><text class="n" x="0" y="0" textLength="10.6" lengthAdjust="spacingAndGlyphs">2</text><text class="n" x="10.6" y="0" textLength="10.6" lengthAdjust="spacingAndGlyphs">2</text></g><g transform="translate(847.7,56) skewX(-7)"><path transform="translate(0,0) skewX(-12)" d="M4.6,-12.3 H7.6 V0 H4.4 V-8.6 L1.5,-7.4 V-9.7 Q3.8,-10.6 4.6,-12.3 Z" fill="#000"/><text class="n" x="10.6" y="0" textLength="10.6" lengthAdjust="spacingAndGlyphs">7</text></g><g transform="translate(900.2,84.4) skewX(-7)"><path transform="translate(0,0) skewX(-12)" d="M4.6,-12.3 H7.6 V0 H4.4 V-8.6 L1.5,-7.4 V-9.7 Q3.8,-10.6 4.6,-12.3 Z" fill="#000"/><text class="n" x="10.6" y="0" textLength="10.6" lengthAdjust="spacingAndGlyphs">8</text></g><g transform="translate(902.2,196.8) skewX(-7)"><text class="n" x="0" y="0" textLength="10.6" lengthAdjust="spacingAndGlyphs">2</text><path transform="translate(10.6,0) skewX(-12)" d="M4.6,-12.3 H7.6 V0 H4.4 V-8.6 L1.5,-7.4 V-9.7 Q3.8,-10.6 4.6,-12.3 Z" fill="#000"/></g>
<path class="l" d="M985.9,67.4 H1007.8 M1036.2,122.3 H1053.3 M1036.2,162.3 H1053.3"/><g transform="translate(1011.2,72.6) skewX(-7)"><path transform="translate(0,0) skewX(-12)" d="M4.6,-12.3 H7.6 V0 H4.4 V-8.6 L1.5,-7.4 V-9.7 Q3.8,-10.6 4.6,-12.3 Z" fill="#000"/><text class="n" x="10.6" y="0" textLength="10.6" lengthAdjust="spacingAndGlyphs">6</text></g><g transform="translate(1057.2,128) skewX(-7)"><path transform="translate(0,0) skewX(-12)" d="M4.6,-12.3 H7.6 V0 H4.4 V-8.6 L1.5,-7.4 V-9.7 Q3.8,-10.6 4.6,-12.3 Z" fill="#000"/><text class="n" x="10.6" y="0" textLength="10.6" lengthAdjust="spacingAndGlyphs">5</text></g><g transform="translate(1057.2,168.7) skewX(-7)"><path transform="translate(0,0) skewX(-12)" d="M4.6,-12.3 H7.6 V0 H4.4 V-8.6 L1.5,-7.4 V-9.7 Q3.8,-10.6 4.6,-12.3 Z" fill="#000"/><text class="n" x="10.6" y="0" textLength="10.6" lengthAdjust="spacingAndGlyphs">4</text></g>
<path class="l" d="M874.9,183 L902.5,199.4 M905.5,200.9 L910.8,203.8 M912.5,205.3 L936.6,217.5 M943.6,221.9 L976.9,242"/><g transform="translate(1057.7,205.3) skewX(-7)"><path transform="translate(0,0) skewX(-12)" d="M4.6,-12.3 H7.6 V0 H4.4 V-8.6 L1.5,-7.4 V-9.7 Q3.8,-10.6 4.6,-12.3 Z" fill="#000"/><text class="n" x="10.6" y="0" textLength="10.6" lengthAdjust="spacingAndGlyphs">3</text></g>
<path class="l" d="M1043.3,280.7 L1079.7,301.6 M1085,305.3 L1098.1,312.8 M1112.8,331.5 V352.3 M1082.8,226.6 H1114.3"/><g transform="translate(1119.7,232.4) skewX(-7)"><path transform="translate(0,0) skewX(-12)" d="M4.6,-12.3 H7.6 V0 H4.4 V-8.6 L1.5,-7.4 V-9.7 Q3.8,-10.6 4.6,-12.3 Z" fill="#000"/><text class="n" x="10.6" y="0" textLength="10.6" lengthAdjust="spacingAndGlyphs">2</text></g><g transform="translate(1104.2,368.9) skewX(-7)"><text class="n" x="0" y="0" textLength="10.6" lengthAdjust="spacingAndGlyphs">2</text><text class="n" x="10.6" y="0" textLength="10.6" lengthAdjust="spacingAndGlyphs">0</text></g>
<path class="l" d="M682.1,280.1 V306.6 M728,319.3 H751.6 M605,368.5 V398.7"/><g transform="translate(675.2,277.5) skewX(-7)"><text class="n" x="0" y="0" textLength="10.6" lengthAdjust="spacingAndGlyphs">3</text><text class="n" x="10.6" y="0" textLength="10.6" lengthAdjust="spacingAndGlyphs">2</text></g><g transform="translate(757.5,325.6) skewX(-7)"><text class="n" x="0" y="0" textLength="10.6" lengthAdjust="spacingAndGlyphs">3</text><text class="n" x="10.6" y="0" textLength="10.6" lengthAdjust="spacingAndGlyphs">3</text></g><g transform="translate(598.2,365.9) skewX(-7)"><text class="n" x="0" y="0" textLength="10.6" lengthAdjust="spacingAndGlyphs">3</text><path transform="translate(10.6,0) skewX(-12)" d="M4.6,-12.3 H7.6 V0 H4.4 V-8.6 L1.5,-7.4 V-9.7 Q3.8,-10.6 4.6,-12.3 Z" fill="#000"/></g>
<path class="l" d="M435,633.5 V661.5 M486,604 V631.5 M511.9,592.6 V621.5"/><g transform="translate(426.7,630) skewX(-7)"><text class="n" x="0" y="0" textLength="10.6" lengthAdjust="spacingAndGlyphs">2</text><text class="n" x="10.6" y="0" textLength="10.6" lengthAdjust="spacingAndGlyphs">7</text></g><g transform="translate(477.6,600.8) skewX(-7)"><text class="n" x="0" y="0" textLength="10.6" lengthAdjust="spacingAndGlyphs">2</text><text class="n" x="10.6" y="0" textLength="10.6" lengthAdjust="spacingAndGlyphs">7</text></g><g transform="translate(503.7,590) skewX(-7)"><text class="n" x="0" y="0" textLength="10.6" lengthAdjust="spacingAndGlyphs">2</text><text class="n" x="10.6" y="0" textLength="10.6" lengthAdjust="spacingAndGlyphs">6</text></g>
<path class="l" d="M885.8,477.5 V491.5 M909,548.5 H916 L920,543 M859,468.5 V493 M885.5,477.5 V491"/><g transform="translate(877.2,474) skewX(-7)"><text class="n" x="0" y="0" textLength="10.6" lengthAdjust="spacingAndGlyphs">2</text><text class="n" x="10.6" y="0" textLength="10.6" lengthAdjust="spacingAndGlyphs">7</text></g><g transform="translate(884.7,554) skewX(-7)"><text class="n" x="0" y="0" textLength="10.6" lengthAdjust="spacingAndGlyphs">2</text><text class="n" x="10.6" y="0" textLength="10.6" lengthAdjust="spacingAndGlyphs">7</text></g><g transform="translate(851.2,462.5) skewX(-7)"><text class="n" x="0" y="0" textLength="10.6" lengthAdjust="spacingAndGlyphs">2</text><text class="n" x="10.6" y="0" textLength="10.6" lengthAdjust="spacingAndGlyphs">6</text></g>
<path class="l" d="M866,386 V404.8 M841.6,629.6 V648.7 M858.2,629.2 L872.6,640.8 M878.1,644.5 L886.6,651.9"/><path class="l" d="M983.1,350 L973.1,356.2 M968.75,358.75 L960,364.4 M925,384.4 L910.6,392.5 M906.9,395 L903.1,396.8 M900,398.75 L881.9,409.4"/><g transform="translate(857,383.75) skewX(-7)"><text class="n" x="0" y="0" textLength="10.6" lengthAdjust="spacingAndGlyphs">2</text><text class="n" x="10.6" y="0" textLength="10.6" lengthAdjust="spacingAndGlyphs">4</text></g><g transform="translate(833,666) skewX(-7)"><text class="n" x="0" y="0" textLength="10.6" lengthAdjust="spacingAndGlyphs">2</text><text class="n" x="10.6" y="0" textLength="10.6" lengthAdjust="spacingAndGlyphs">4</text></g>
<path class="l" d="M947.1,739.75 H1001.3 M1018.9,848.6 H1045.9"/><g transform="translate(932.7,745.7) skewX(-7)"><text class="n" x="0" y="0" textLength="10.6" lengthAdjust="spacingAndGlyphs">2</text></g><g transform="translate(1052.2,855) skewX(-7)"><text class="n" x="0" y="0" textLength="10.6" lengthAdjust="spacingAndGlyphs">5</text></g>
<path class="l" d="M923,696.5 V713.2 M958.1,665.75 V681.5 M897.25,709.3 V727.4 M1156,675.5 V690.5"/><path class="l" d="M1044.5,632.8 L1076.4,650.9 M1080.6,653.4 L1084.9,655.8 M1087,657.25 L1139.5,687.5 M877.1,644 L888.4,653"/><g transform="translate(920.8,728.8) skewX(-7)"><text class="n" x="0" y="0" textLength="10.6" lengthAdjust="spacingAndGlyphs">7</text></g><g transform="translate(955.2,696.6) skewX(-7)"><text class="n" x="0" y="0" textLength="10.6" lengthAdjust="spacingAndGlyphs">8</text></g><g transform="translate(887.9,742.25) skewX(-7)"><path transform="translate(0,0) skewX(-12)" d="M4.6,-12.3 H7.6 V0 H4.4 V-8.6 L1.5,-7.4 V-9.7 Q3.8,-10.6 4.6,-12.3 Z" fill="#000"/><text class="n" x="10.6" y="0" textLength="10.6" lengthAdjust="spacingAndGlyphs">0</text></g><g transform="translate(1146.2,672.9) skewX(-7)"><path transform="translate(0,0) skewX(-12)" d="M4.6,-12.3 H7.6 V0 H4.4 V-8.6 L1.5,-7.4 V-9.7 Q3.8,-10.6 4.6,-12.3 Z" fill="#000"/><path transform="translate(10.6,0) skewX(-12)" d="M4.6,-12.3 H7.6 V0 H4.4 V-8.6 L1.5,-7.4 V-9.7 Q3.8,-10.6 4.6,-12.3 Z" fill="#000"/></g>
<path class="l" d="M944.8,913.5 H989 M977.6,947 H989.9 M1020.9,993.1 H1041.9 M1028.8,1027.25 H1047.2 M982.9,1078.9 H999.5 M1103,1081.5 V1099.5 M836.9,918.5 V940 M812,895.5 V917"/><path class="l" d="M841,953.5 L936.2,1006.3 M942.75,1011.6 L987.4,1036.5 M1021.5,1056.2 L1054.3,1074.6 M1062.2,1079.8 L1082.5,1092.5"/><g transform="translate(931.7,920) skewX(-7)"><text class="n" x="0" y="0" textLength="10.6" lengthAdjust="spacingAndGlyphs">9</text></g><g transform="translate(965.7,953.6) skewX(-7)"><text class="n" x="0" y="0" textLength="10.6" lengthAdjust="spacingAndGlyphs">3</text></g><g transform="translate(1047.7,998.8) skewX(-7)"><text class="n" x="0" y="0" textLength="10.6" lengthAdjust="spacingAndGlyphs">6</text></g><g transform="translate(1052.2,1033.4) skewX(-7)"><text class="n" x="0" y="0" textLength="10.6" lengthAdjust="spacingAndGlyphs">4</text></g><g transform="translate(971.8,1085) skewX(-7)"><text class="n" x="0" y="0" textLength="10.6" lengthAdjust="spacingAndGlyphs">6</text></g><g transform="translate(1094.7,1078.2) skewX(-7)"><text class="n" x="0" y="0" textLength="10.6" lengthAdjust="spacingAndGlyphs">2</text><text class="n" x="10.6" y="0" textLength="10.6" lengthAdjust="spacingAndGlyphs">8</text></g><g transform="translate(827.7,916.7) skewX(-7)"><text class="n" x="0" y="0" textLength="10.6" lengthAdjust="spacingAndGlyphs">2</text><text class="n" x="10.6" y="0" textLength="10.6" lengthAdjust="spacingAndGlyphs">9</text></g><g transform="translate(803.7,892.5) skewX(-7)"><text class="n" x="0" y="0" textLength="10.6" lengthAdjust="spacingAndGlyphs">3</text><text class="n" x="10.6" y="0" textLength="10.6" lengthAdjust="spacingAndGlyphs">0</text></g><path class="l" d="M859.2,306 V337"/><g transform="translate(848.7,303) skewX(-7)"><text class="n" x="0" y="0" textLength="10.6" lengthAdjust="spacingAndGlyphs">2</text><text class="n" x="10.6" y="0" textLength="10.6" lengthAdjust="spacingAndGlyphs">5</text></g>

</g>
<g id="watermark" style="mix-blend-mode:multiply">
<use href="#wm" x="-48.4" y="-18.2" transform="rotate(-30 -48.4 -18.2)"/>
<use href="#wm" x="-78.0" y="49.8" transform="rotate(-30 -78.0 49.8)"/>
<use href="#wm" x="25.2" y="-9.8" transform="rotate(-30 25.2 -9.8)"/>
<use href="#wm" x="-4.3" y="58.2" transform="rotate(-30 -4.3 58.2)"/>
<use href="#wm" x="98.8" y="-1.4" transform="rotate(-30 98.8 -1.4)"/>
<use href="#wm" x="-33.9" y="126.2" transform="rotate(-30 -33.9 126.2)"/>
<use href="#wm" x="69.3" y="66.6" transform="rotate(-30 69.3 66.6)"/>
<use href="#wm" x="172.5" y="7.0" transform="rotate(-30 172.5 7.0)"/>
<use href="#wm" x="-63.4" y="194.1" transform="rotate(-30 -63.4 194.1)"/>
<use href="#wm" x="39.8" y="134.6" transform="rotate(-30 39.8 134.6)"/>
<use href="#wm" x="142.9" y="75.0" transform="rotate(-30 142.9 75.0)"/>
<use href="#wm" x="246.1" y="15.4" transform="rotate(-30 246.1 15.4)"/>
<use href="#wm" x="-92.9" y="262.1" transform="rotate(-30 -92.9 262.1)"/>
<use href="#wm" x="10.2" y="202.5" transform="rotate(-30 10.2 202.5)"/>
<use href="#wm" x="113.4" y="143.0" transform="rotate(-30 113.4 143.0)"/>
<use href="#wm" x="216.6" y="83.4" transform="rotate(-30 216.6 83.4)"/>
<use href="#wm" x="319.7" y="23.8" transform="rotate(-30 319.7 23.8)"/>
<use href="#wm" x="-19.3" y="270.5" transform="rotate(-30 -19.3 270.5)"/>
<use href="#wm" x="83.9" y="210.9" transform="rotate(-30 83.9 210.9)"/>
<use href="#wm" x="187.0" y="151.4" transform="rotate(-30 187.0 151.4)"/>
<use href="#wm" x="290.2" y="91.8" transform="rotate(-30 290.2 91.8)"/>
<use href="#wm" x="393.3" y="32.2" transform="rotate(-30 393.3 32.2)"/>
<use href="#wm" x="-48.8" y="338.5" transform="rotate(-30 -48.8 338.5)"/>
<use href="#wm" x="54.3" y="278.9" transform="rotate(-30 54.3 278.9)"/>
<use href="#wm" x="157.5" y="219.3" transform="rotate(-30 157.5 219.3)"/>
<use href="#wm" x="260.6" y="159.8" transform="rotate(-30 260.6 159.8)"/>
<use href="#wm" x="363.8" y="100.2" transform="rotate(-30 363.8 100.2)"/>
<use href="#wm" x="467.0" y="40.7" transform="rotate(-30 467.0 40.7)"/>
<use href="#wm" x="570.1" y="-18.9" transform="rotate(-30 570.1 -18.9)"/>
<use href="#wm" x="-78.4" y="406.4" transform="rotate(-30 -78.4 406.4)"/>
<use href="#wm" x="24.8" y="346.9" transform="rotate(-30 24.8 346.9)"/>
<use href="#wm" x="127.9" y="287.3" transform="rotate(-30 127.9 287.3)"/>
<use href="#wm" x="231.1" y="227.7" transform="rotate(-30 231.1 227.7)"/>
<use href="#wm" x="334.3" y="168.2" transform="rotate(-30 334.3 168.2)"/>
<use href="#wm" x="437.4" y="108.6" transform="rotate(-30 437.4 108.6)"/>
<use href="#wm" x="540.6" y="49.1" transform="rotate(-30 540.6 49.1)"/>
<use href="#wm" x="643.7" y="-10.5" transform="rotate(-30 643.7 -10.5)"/>
<use href="#wm" x="-4.8" y="414.8" transform="rotate(-30 -4.8 414.8)"/>
<use href="#wm" x="98.4" y="355.3" transform="rotate(-30 98.4 355.3)"/>
<use href="#wm" x="201.6" y="295.7" transform="rotate(-30 201.6 295.7)"/>
<use href="#wm" x="304.7" y="236.1" transform="rotate(-30 304.7 236.1)"/>
<use href="#wm" x="407.9" y="176.6" transform="rotate(-30 407.9 176.6)"/>
<use href="#wm" x="511.1" y="117.0" transform="rotate(-30 511.1 117.0)"/>
<use href="#wm" x="614.2" y="57.5" transform="rotate(-30 614.2 57.5)"/>
<use href="#wm" x="717.4" y="-2.1" transform="rotate(-30 717.4 -2.1)"/>
<use href="#wm" x="-34.3" y="482.8" transform="rotate(-30 -34.3 482.8)"/>
<use href="#wm" x="68.9" y="423.2" transform="rotate(-30 68.9 423.2)"/>
<use href="#wm" x="172.0" y="363.7" transform="rotate(-30 172.0 363.7)"/>
<use href="#wm" x="275.2" y="304.1" transform="rotate(-30 275.2 304.1)"/>
<use href="#wm" x="378.4" y="244.5" transform="rotate(-30 378.4 244.5)"/>
<use href="#wm" x="481.5" y="185.0" transform="rotate(-30 481.5 185.0)"/>
<use href="#wm" x="584.7" y="125.4" transform="rotate(-30 584.7 125.4)"/>
<use href="#wm" x="687.8" y="65.9" transform="rotate(-30 687.8 65.9)"/>
<use href="#wm" x="791.0" y="6.3" transform="rotate(-30 791.0 6.3)"/>
<use href="#wm" x="-63.8" y="550.7" transform="rotate(-30 -63.8 550.7)"/>
<use href="#wm" x="39.3" y="491.2" transform="rotate(-30 39.3 491.2)"/>
<use href="#wm" x="142.5" y="431.6" transform="rotate(-30 142.5 431.6)"/>
<use href="#wm" x="245.7" y="372.1" transform="rotate(-30 245.7 372.1)"/>
<use href="#wm" x="348.8" y="312.5" transform="rotate(-30 348.8 312.5)"/>
<use href="#wm" x="452.0" y="252.9" transform="rotate(-30 452.0 252.9)"/>
<use href="#wm" x="555.1" y="193.4" transform="rotate(-30 555.1 193.4)"/>
<use href="#wm" x="658.3" y="133.8" transform="rotate(-30 658.3 133.8)"/>
<use href="#wm" x="761.5" y="74.3" transform="rotate(-30 761.5 74.3)"/>
<use href="#wm" x="864.6" y="14.7" transform="rotate(-30 864.6 14.7)"/>
<use href="#wm" x="-93.4" y="618.7" transform="rotate(-30 -93.4 618.7)"/>
<use href="#wm" x="9.8" y="559.1" transform="rotate(-30 9.8 559.1)"/>
<use href="#wm" x="113.0" y="499.6" transform="rotate(-30 113.0 499.6)"/>
<use href="#wm" x="216.1" y="440.0" transform="rotate(-30 216.1 440.0)"/>
<use href="#wm" x="319.3" y="380.5" transform="rotate(-30 319.3 380.5)"/>
<use href="#wm" x="422.4" y="320.9" transform="rotate(-30 422.4 320.9)"/>
<use href="#wm" x="525.6" y="261.3" transform="rotate(-30 525.6 261.3)"/>
<use href="#wm" x="628.8" y="201.8" transform="rotate(-30 628.8 201.8)"/>
<use href="#wm" x="731.9" y="142.2" transform="rotate(-30 731.9 142.2)"/>
<use href="#wm" x="835.1" y="82.7" transform="rotate(-30 835.1 82.7)"/>
<use href="#wm" x="938.3" y="23.1" transform="rotate(-30 938.3 23.1)"/>
<use href="#wm" x="-19.7" y="627.1" transform="rotate(-30 -19.7 627.1)"/>
<use href="#wm" x="83.4" y="567.6" transform="rotate(-30 83.4 567.6)"/>
<use href="#wm" x="186.6" y="508.0" transform="rotate(-30 186.6 508.0)"/>
<use href="#wm" x="289.8" y="448.4" transform="rotate(-30 289.8 448.4)"/>
<use href="#wm" x="392.9" y="388.9" transform="rotate(-30 392.9 388.9)"/>
<use href="#wm" x="496.1" y="329.3" transform="rotate(-30 496.1 329.3)"/>
<use href="#wm" x="599.2" y="269.8" transform="rotate(-30 599.2 269.8)"/>
<use href="#wm" x="702.4" y="210.2" transform="rotate(-30 702.4 210.2)"/>
<use href="#wm" x="805.6" y="150.6" transform="rotate(-30 805.6 150.6)"/>
<use href="#wm" x="908.7" y="91.1" transform="rotate(-30 908.7 91.1)"/>
<use href="#wm" x="1011.9" y="31.5" transform="rotate(-30 1011.9 31.5)"/>
<use href="#wm" x="-49.3" y="695.1" transform="rotate(-30 -49.3 695.1)"/>
<use href="#wm" x="53.9" y="635.5" transform="rotate(-30 53.9 635.5)"/>
<use href="#wm" x="157.1" y="576.0" transform="rotate(-30 157.1 576.0)"/>
<use href="#wm" x="260.2" y="516.4" transform="rotate(-30 260.2 516.4)"/>
<use href="#wm" x="363.4" y="456.8" transform="rotate(-30 363.4 456.8)"/>
<use href="#wm" x="466.5" y="397.3" transform="rotate(-30 466.5 397.3)"/>
<use href="#wm" x="569.7" y="337.7" transform="rotate(-30 569.7 337.7)"/>
<use href="#wm" x="672.9" y="278.2" transform="rotate(-30 672.9 278.2)"/>
<use href="#wm" x="776.0" y="218.6" transform="rotate(-30 776.0 218.6)"/>
<use href="#wm" x="879.2" y="159.0" transform="rotate(-30 879.2 159.0)"/>
<use href="#wm" x="982.3" y="99.5" transform="rotate(-30 982.3 99.5)"/>
<use href="#wm" x="1085.5" y="39.9" transform="rotate(-30 1085.5 39.9)"/>
<use href="#wm" x="1188.7" y="-19.6" transform="rotate(-30 1188.7 -19.6)"/>
<use href="#wm" x="-78.8" y="763.0" transform="rotate(-30 -78.8 763.0)"/>
<use href="#wm" x="24.4" y="703.5" transform="rotate(-30 24.4 703.5)"/>
<use href="#wm" x="127.5" y="643.9" transform="rotate(-30 127.5 643.9)"/>
<use href="#wm" x="230.7" y="584.4" transform="rotate(-30 230.7 584.4)"/>
<use href="#wm" x="333.8" y="524.8" transform="rotate(-30 333.8 524.8)"/>
<use href="#wm" x="437.0" y="465.2" transform="rotate(-30 437.0 465.2)"/>
<use href="#wm" x="540.2" y="405.7" transform="rotate(-30 540.2 405.7)"/>
<use href="#wm" x="643.3" y="346.1" transform="rotate(-30 643.3 346.1)"/>
<use href="#wm" x="746.5" y="286.6" transform="rotate(-30 746.5 286.6)"/>
<use href="#wm" x="849.6" y="227.0" transform="rotate(-30 849.6 227.0)"/>
<use href="#wm" x="952.8" y="167.4" transform="rotate(-30 952.8 167.4)"/>
<use href="#wm" x="1056.0" y="107.9" transform="rotate(-30 1056.0 107.9)"/>
<use href="#wm" x="1159.1" y="48.3" transform="rotate(-30 1159.1 48.3)"/>
<use href="#wm" x="1262.3" y="-11.2" transform="rotate(-30 1262.3 -11.2)"/>
<use href="#wm" x="-5.2" y="771.4" transform="rotate(-30 -5.2 771.4)"/>
<use href="#wm" x="98.0" y="711.9" transform="rotate(-30 98.0 711.9)"/>
<use href="#wm" x="201.1" y="652.3" transform="rotate(-30 201.1 652.3)"/>
<use href="#wm" x="304.3" y="592.8" transform="rotate(-30 304.3 592.8)"/>
<use href="#wm" x="407.5" y="533.2" transform="rotate(-30 407.5 533.2)"/>
<use href="#wm" x="510.6" y="473.6" transform="rotate(-30 510.6 473.6)"/>
<use href="#wm" x="613.8" y="414.1" transform="rotate(-30 613.8 414.1)"/>
<use href="#wm" x="716.9" y="354.5" transform="rotate(-30 716.9 354.5)"/>
<use href="#wm" x="820.1" y="295.0" transform="rotate(-30 820.1 295.0)"/>
<use href="#wm" x="923.3" y="235.4" transform="rotate(-30 923.3 235.4)"/>
<use href="#wm" x="1026.4" y="175.8" transform="rotate(-30 1026.4 175.8)"/>
<use href="#wm" x="1129.6" y="116.3" transform="rotate(-30 1129.6 116.3)"/>
<use href="#wm" x="1232.8" y="56.7" transform="rotate(-30 1232.8 56.7)"/>
<use href="#wm" x="1335.9" y="-2.8" transform="rotate(-30 1335.9 -2.8)"/>
<use href="#wm" x="-34.7" y="839.4" transform="rotate(-30 -34.7 839.4)"/>
<use href="#wm" x="68.4" y="779.8" transform="rotate(-30 68.4 779.8)"/>
<use href="#wm" x="171.6" y="720.3" transform="rotate(-30 171.6 720.3)"/>
<use href="#wm" x="274.8" y="660.7" transform="rotate(-30 274.8 660.7)"/>
<use href="#wm" x="377.9" y="601.2" transform="rotate(-30 377.9 601.2)"/>
<use href="#wm" x="481.1" y="541.6" transform="rotate(-30 481.1 541.6)"/>
<use href="#wm" x="584.3" y="482.0" transform="rotate(-30 584.3 482.0)"/>
<use href="#wm" x="687.4" y="422.5" transform="rotate(-30 687.4 422.5)"/>
<use href="#wm" x="790.6" y="362.9" transform="rotate(-30 790.6 362.9)"/>
<use href="#wm" x="893.7" y="303.4" transform="rotate(-30 893.7 303.4)"/>
<use href="#wm" x="996.9" y="243.8" transform="rotate(-30 996.9 243.8)"/>
<use href="#wm" x="1100.1" y="184.2" transform="rotate(-30 1100.1 184.2)"/>
<use href="#wm" x="1203.2" y="124.7" transform="rotate(-30 1203.2 124.7)"/>
<use href="#wm" x="1306.4" y="65.1" transform="rotate(-30 1306.4 65.1)"/>
<use href="#wm" x="1409.5" y="5.6" transform="rotate(-30 1409.5 5.6)"/>
<use href="#wm" x="-64.2" y="907.4" transform="rotate(-30 -64.2 907.4)"/>
<use href="#wm" x="38.9" y="847.8" transform="rotate(-30 38.9 847.8)"/>
<use href="#wm" x="142.1" y="788.2" transform="rotate(-30 142.1 788.2)"/>
<use href="#wm" x="245.2" y="728.7" transform="rotate(-30 245.2 728.7)"/>
<use href="#wm" x="348.4" y="669.1" transform="rotate(-30 348.4 669.1)"/>
<use href="#wm" x="451.6" y="609.6" transform="rotate(-30 451.6 609.6)"/>
<use href="#wm" x="554.7" y="550.0" transform="rotate(-30 554.7 550.0)"/>
<use href="#wm" x="657.9" y="490.4" transform="rotate(-30 657.9 490.4)"/>
<use href="#wm" x="761.0" y="430.9" transform="rotate(-30 761.0 430.9)"/>
<use href="#wm" x="864.2" y="371.3" transform="rotate(-30 864.2 371.3)"/>
<use href="#wm" x="967.4" y="311.8" transform="rotate(-30 967.4 311.8)"/>
<use href="#wm" x="1070.5" y="252.2" transform="rotate(-30 1070.5 252.2)"/>
<use href="#wm" x="1173.7" y="192.6" transform="rotate(-30 1173.7 192.6)"/>
<use href="#wm" x="1276.8" y="133.1" transform="rotate(-30 1276.8 133.1)"/>
<use href="#wm" x="1380.0" y="73.5" transform="rotate(-30 1380.0 73.5)"/>
<use href="#wm" x="1483.2" y="14.0" transform="rotate(-30 1483.2 14.0)"/>
<use href="#wm" x="-93.8" y="975.3" transform="rotate(-30 -93.8 975.3)"/>
<use href="#wm" x="9.4" y="915.8" transform="rotate(-30 9.4 915.8)"/>
<use href="#wm" x="112.5" y="856.2" transform="rotate(-30 112.5 856.2)"/>
<use href="#wm" x="215.7" y="796.6" transform="rotate(-30 215.7 796.6)"/>
<use href="#wm" x="318.9" y="737.1" transform="rotate(-30 318.9 737.1)"/>
<use href="#wm" x="422.0" y="677.5" transform="rotate(-30 422.0 677.5)"/>
<use href="#wm" x="525.2" y="618.0" transform="rotate(-30 525.2 618.0)"/>
<use href="#wm" x="628.3" y="558.4" transform="rotate(-30 628.3 558.4)"/>
<use href="#wm" x="731.5" y="498.8" transform="rotate(-30 731.5 498.8)"/>
<use href="#wm" x="834.7" y="439.3" transform="rotate(-30 834.7 439.3)"/>
<use href="#wm" x="937.8" y="379.7" transform="rotate(-30 937.8 379.7)"/>
<use href="#wm" x="1041.0" y="320.2" transform="rotate(-30 1041.0 320.2)"/>
<use href="#wm" x="1144.1" y="260.6" transform="rotate(-30 1144.1 260.6)"/>
<use href="#wm" x="1247.3" y="201.0" transform="rotate(-30 1247.3 201.0)"/>
<use href="#wm" x="1350.5" y="141.5" transform="rotate(-30 1350.5 141.5)"/>
<use href="#wm" x="1453.6" y="81.9" transform="rotate(-30 1453.6 81.9)"/>
<use href="#wm" x="1556.8" y="22.4" transform="rotate(-30 1556.8 22.4)"/>
<use href="#wm" x="-20.2" y="983.7" transform="rotate(-30 -20.2 983.7)"/>
<use href="#wm" x="83.0" y="924.2" transform="rotate(-30 83.0 924.2)"/>
<use href="#wm" x="186.2" y="864.6" transform="rotate(-30 186.2 864.6)"/>
<use href="#wm" x="289.3" y="805.1" transform="rotate(-30 289.3 805.1)"/>
<use href="#wm" x="392.5" y="745.5" transform="rotate(-30 392.5 745.5)"/>
<use href="#wm" x="495.6" y="685.9" transform="rotate(-30 495.6 685.9)"/>
<use href="#wm" x="598.8" y="626.4" transform="rotate(-30 598.8 626.4)"/>
<use href="#wm" x="702.0" y="566.8" transform="rotate(-30 702.0 566.8)"/>
<use href="#wm" x="805.1" y="507.3" transform="rotate(-30 805.1 507.3)"/>
<use href="#wm" x="908.3" y="447.7" transform="rotate(-30 908.3 447.7)"/>
<use href="#wm" x="1011.5" y="388.1" transform="rotate(-30 1011.5 388.1)"/>
<use href="#wm" x="1114.6" y="328.6" transform="rotate(-30 1114.6 328.6)"/>
<use href="#wm" x="1217.8" y="269.0" transform="rotate(-30 1217.8 269.0)"/>
<use href="#wm" x="1320.9" y="209.5" transform="rotate(-30 1320.9 209.5)"/>
<use href="#wm" x="1424.1" y="149.9" transform="rotate(-30 1424.1 149.9)"/>
<use href="#wm" x="1527.3" y="90.3" transform="rotate(-30 1527.3 90.3)"/>
<use href="#wm" x="-49.7" y="1051.7" transform="rotate(-30 -49.7 1051.7)"/>
<use href="#wm" x="53.5" y="992.1" transform="rotate(-30 53.5 992.1)"/>
<use href="#wm" x="156.6" y="932.6" transform="rotate(-30 156.6 932.6)"/>
<use href="#wm" x="259.8" y="873.0" transform="rotate(-30 259.8 873.0)"/>
<use href="#wm" x="362.9" y="813.5" transform="rotate(-30 362.9 813.5)"/>
<use href="#wm" x="466.1" y="753.9" transform="rotate(-30 466.1 753.9)"/>
<use href="#wm" x="569.3" y="694.3" transform="rotate(-30 569.3 694.3)"/>
<use href="#wm" x="672.4" y="634.8" transform="rotate(-30 672.4 634.8)"/>
<use href="#wm" x="775.6" y="575.2" transform="rotate(-30 775.6 575.2)"/>
<use href="#wm" x="878.8" y="515.7" transform="rotate(-30 878.8 515.7)"/>
<use href="#wm" x="981.9" y="456.1" transform="rotate(-30 981.9 456.1)"/>
<use href="#wm" x="1085.1" y="396.5" transform="rotate(-30 1085.1 396.5)"/>
<use href="#wm" x="1188.2" y="337.0" transform="rotate(-30 1188.2 337.0)"/>
<use href="#wm" x="1291.4" y="277.4" transform="rotate(-30 1291.4 277.4)"/>
<use href="#wm" x="1394.6" y="217.9" transform="rotate(-30 1394.6 217.9)"/>
<use href="#wm" x="1497.7" y="158.3" transform="rotate(-30 1497.7 158.3)"/>
<use href="#wm" x="1600.9" y="98.7" transform="rotate(-30 1600.9 98.7)"/>
<use href="#wm" x="-79.2" y="1119.7" transform="rotate(-30 -79.2 1119.7)"/>
<use href="#wm" x="23.9" y="1060.1" transform="rotate(-30 23.9 1060.1)"/>
<use href="#wm" x="127.1" y="1000.5" transform="rotate(-30 127.1 1000.5)"/>
<use href="#wm" x="230.3" y="941.0" transform="rotate(-30 230.3 941.0)"/>
<use href="#wm" x="333.4" y="881.4" transform="rotate(-30 333.4 881.4)"/>
<use href="#wm" x="436.6" y="821.9" transform="rotate(-30 436.6 821.9)"/>
<use href="#wm" x="539.7" y="762.3" transform="rotate(-30 539.7 762.3)"/>
<use href="#wm" x="642.9" y="702.7" transform="rotate(-30 642.9 702.7)"/>
<use href="#wm" x="746.1" y="643.2" transform="rotate(-30 746.1 643.2)"/>
<use href="#wm" x="849.2" y="583.6" transform="rotate(-30 849.2 583.6)"/>
<use href="#wm" x="952.4" y="524.1" transform="rotate(-30 952.4 524.1)"/>
<use href="#wm" x="1055.5" y="464.5" transform="rotate(-30 1055.5 464.5)"/>
<use href="#wm" x="1158.7" y="404.9" transform="rotate(-30 1158.7 404.9)"/>
<use href="#wm" x="1261.9" y="345.4" transform="rotate(-30 1261.9 345.4)"/>
<use href="#wm" x="1365.0" y="285.8" transform="rotate(-30 1365.0 285.8)"/>
<use href="#wm" x="1468.2" y="226.3" transform="rotate(-30 1468.2 226.3)"/>
<use href="#wm" x="1571.3" y="166.7" transform="rotate(-30 1571.3 166.7)"/>
<use href="#wm" x="-5.6" y="1128.1" transform="rotate(-30 -5.6 1128.1)"/>
<use href="#wm" x="97.6" y="1068.5" transform="rotate(-30 97.6 1068.5)"/>
<use href="#wm" x="200.7" y="1008.9" transform="rotate(-30 200.7 1008.9)"/>
<use href="#wm" x="303.9" y="949.4" transform="rotate(-30 303.9 949.4)"/>
<use href="#wm" x="407.0" y="889.8" transform="rotate(-30 407.0 889.8)"/>
<use href="#wm" x="510.2" y="830.3" transform="rotate(-30 510.2 830.3)"/>
<use href="#wm" x="613.4" y="770.7" transform="rotate(-30 613.4 770.7)"/>
<use href="#wm" x="716.5" y="711.1" transform="rotate(-30 716.5 711.1)"/>
<use href="#wm" x="819.7" y="651.6" transform="rotate(-30 819.7 651.6)"/>
<use href="#wm" x="922.8" y="592.0" transform="rotate(-30 922.8 592.0)"/>
<use href="#wm" x="1026.0" y="532.5" transform="rotate(-30 1026.0 532.5)"/>
<use href="#wm" x="1129.2" y="472.9" transform="rotate(-30 1129.2 472.9)"/>
<use href="#wm" x="1232.3" y="413.3" transform="rotate(-30 1232.3 413.3)"/>
<use href="#wm" x="1335.5" y="353.8" transform="rotate(-30 1335.5 353.8)"/>
<use href="#wm" x="1438.6" y="294.2" transform="rotate(-30 1438.6 294.2)"/>
<use href="#wm" x="1541.8" y="234.7" transform="rotate(-30 1541.8 234.7)"/>
<use href="#wm" x="-35.1" y="1196.0" transform="rotate(-30 -35.1 1196.0)"/>
<use href="#wm" x="68.0" y="1136.5" transform="rotate(-30 68.0 1136.5)"/>
<use href="#wm" x="171.2" y="1076.9" transform="rotate(-30 171.2 1076.9)"/>
<use href="#wm" x="274.3" y="1017.3" transform="rotate(-30 274.3 1017.3)"/>
<use href="#wm" x="377.5" y="957.8" transform="rotate(-30 377.5 957.8)"/>
<use href="#wm" x="480.7" y="898.2" transform="rotate(-30 480.7 898.2)"/>
<use href="#wm" x="583.8" y="838.7" transform="rotate(-30 583.8 838.7)"/>
<use href="#wm" x="687.0" y="779.1" transform="rotate(-30 687.0 779.1)"/>
<use href="#wm" x="790.1" y="719.5" transform="rotate(-30 790.1 719.5)"/>
<use href="#wm" x="893.3" y="660.0" transform="rotate(-30 893.3 660.0)"/>
<use href="#wm" x="996.5" y="600.4" transform="rotate(-30 996.5 600.4)"/>
<use href="#wm" x="1099.6" y="540.9" transform="rotate(-30 1099.6 540.9)"/>
<use href="#wm" x="1202.8" y="481.3" transform="rotate(-30 1202.8 481.3)"/>
<use href="#wm" x="1306.0" y="421.7" transform="rotate(-30 1306.0 421.7)"/>
<use href="#wm" x="1409.1" y="362.2" transform="rotate(-30 1409.1 362.2)"/>
<use href="#wm" x="1512.3" y="302.6" transform="rotate(-30 1512.3 302.6)"/>
<use href="#wm" x="1615.4" y="243.1" transform="rotate(-30 1615.4 243.1)"/>
<use href="#wm" x="-64.7" y="1264.0" transform="rotate(-30 -64.7 1264.0)"/>
<use href="#wm" x="38.5" y="1204.4" transform="rotate(-30 38.5 1204.4)"/>
<use href="#wm" x="141.6" y="1144.9" transform="rotate(-30 141.6 1144.9)"/>
<use href="#wm" x="244.8" y="1085.3" transform="rotate(-30 244.8 1085.3)"/>
<use href="#wm" x="348.0" y="1025.7" transform="rotate(-30 348.0 1025.7)"/>
<use href="#wm" x="451.1" y="966.2" transform="rotate(-30 451.1 966.2)"/>
<use href="#wm" x="554.3" y="906.6" transform="rotate(-30 554.3 906.6)"/>
<use href="#wm" x="657.5" y="847.1" transform="rotate(-30 657.5 847.1)"/>
<use href="#wm" x="760.6" y="787.5" transform="rotate(-30 760.6 787.5)"/>
<use href="#wm" x="863.8" y="727.9" transform="rotate(-30 863.8 727.9)"/>
<use href="#wm" x="966.9" y="668.4" transform="rotate(-30 966.9 668.4)"/>
<use href="#wm" x="1070.1" y="608.8" transform="rotate(-30 1070.1 608.8)"/>
<use href="#wm" x="1173.3" y="549.3" transform="rotate(-30 1173.3 549.3)"/>
<use href="#wm" x="1276.4" y="489.7" transform="rotate(-30 1276.4 489.7)"/>
<use href="#wm" x="1379.6" y="430.1" transform="rotate(-30 1379.6 430.1)"/>
<use href="#wm" x="1482.7" y="370.6" transform="rotate(-30 1482.7 370.6)"/>
<use href="#wm" x="1585.9" y="311.0" transform="rotate(-30 1585.9 311.0)"/>
<use href="#wm" x="8.9" y="1272.4" transform="rotate(-30 8.9 1272.4)"/>
<use href="#wm" x="112.1" y="1212.8" transform="rotate(-30 112.1 1212.8)"/>
<use href="#wm" x="215.3" y="1153.3" transform="rotate(-30 215.3 1153.3)"/>
<use href="#wm" x="318.4" y="1093.7" transform="rotate(-30 318.4 1093.7)"/>
<use href="#wm" x="421.6" y="1034.2" transform="rotate(-30 421.6 1034.2)"/>
<use href="#wm" x="524.8" y="974.6" transform="rotate(-30 524.8 974.6)"/>
<use href="#wm" x="627.9" y="915.0" transform="rotate(-30 627.9 915.0)"/>
<use href="#wm" x="731.1" y="855.5" transform="rotate(-30 731.1 855.5)"/>
<use href="#wm" x="834.2" y="795.9" transform="rotate(-30 834.2 795.9)"/>
<use href="#wm" x="937.4" y="736.4" transform="rotate(-30 937.4 736.4)"/>
<use href="#wm" x="1040.6" y="676.8" transform="rotate(-30 1040.6 676.8)"/>
<use href="#wm" x="1143.7" y="617.2" transform="rotate(-30 1143.7 617.2)"/>
<use href="#wm" x="1246.9" y="557.7" transform="rotate(-30 1246.9 557.7)"/>
<use href="#wm" x="1350.0" y="498.1" transform="rotate(-30 1350.0 498.1)"/>
<use href="#wm" x="1453.2" y="438.6" transform="rotate(-30 1453.2 438.6)"/>
<use href="#wm" x="1556.4" y="379.0" transform="rotate(-30 1556.4 379.0)"/>
<use href="#wm" x="82.6" y="1280.8" transform="rotate(-30 82.6 1280.8)"/>
<use href="#wm" x="185.7" y="1221.2" transform="rotate(-30 185.7 1221.2)"/>
<use href="#wm" x="288.9" y="1161.7" transform="rotate(-30 288.9 1161.7)"/>
<use href="#wm" x="392.1" y="1102.1" transform="rotate(-30 392.1 1102.1)"/>
<use href="#wm" x="495.2" y="1042.6" transform="rotate(-30 495.2 1042.6)"/>
<use href="#wm" x="598.4" y="983.0" transform="rotate(-30 598.4 983.0)"/>
<use href="#wm" x="701.5" y="923.4" transform="rotate(-30 701.5 923.4)"/>
<use href="#wm" x="804.7" y="863.9" transform="rotate(-30 804.7 863.9)"/>
<use href="#wm" x="907.9" y="804.3" transform="rotate(-30 907.9 804.3)"/>
<use href="#wm" x="1011.0" y="744.8" transform="rotate(-30 1011.0 744.8)"/>
<use href="#wm" x="1114.2" y="685.2" transform="rotate(-30 1114.2 685.2)"/>
<use href="#wm" x="1217.3" y="625.6" transform="rotate(-30 1217.3 625.6)"/>
<use href="#wm" x="1320.5" y="566.1" transform="rotate(-30 1320.5 566.1)"/>
<use href="#wm" x="1423.7" y="506.5" transform="rotate(-30 1423.7 506.5)"/>
<use href="#wm" x="1526.8" y="447.0" transform="rotate(-30 1526.8 447.0)"/>
<use href="#wm" x="156.2" y="1289.2" transform="rotate(-30 156.2 1289.2)"/>
<use href="#wm" x="259.4" y="1229.6" transform="rotate(-30 259.4 1229.6)"/>
<use href="#wm" x="362.5" y="1170.1" transform="rotate(-30 362.5 1170.1)"/>
<use href="#wm" x="465.7" y="1110.5" transform="rotate(-30 465.7 1110.5)"/>
<use href="#wm" x="568.8" y="1051.0" transform="rotate(-30 568.8 1051.0)"/>
<use href="#wm" x="672.0" y="991.4" transform="rotate(-30 672.0 991.4)"/>
<use href="#wm" x="775.2" y="931.8" transform="rotate(-30 775.2 931.8)"/>
<use href="#wm" x="878.3" y="872.3" transform="rotate(-30 878.3 872.3)"/>
<use href="#wm" x="981.5" y="812.7" transform="rotate(-30 981.5 812.7)"/>
<use href="#wm" x="1084.6" y="753.2" transform="rotate(-30 1084.6 753.2)"/>
<use href="#wm" x="1187.8" y="693.6" transform="rotate(-30 1187.8 693.6)"/>
<use href="#wm" x="1291.0" y="634.0" transform="rotate(-30 1291.0 634.0)"/>
<use href="#wm" x="1394.1" y="574.5" transform="rotate(-30 1394.1 574.5)"/>
<use href="#wm" x="1497.3" y="514.9" transform="rotate(-30 1497.3 514.9)"/>
<use href="#wm" x="1600.5" y="455.4" transform="rotate(-30 1600.5 455.4)"/>
<use href="#wm" x="229.8" y="1297.6" transform="rotate(-30 229.8 1297.6)"/>
<use href="#wm" x="333.0" y="1238.0" transform="rotate(-30 333.0 1238.0)"/>
<use href="#wm" x="436.1" y="1178.5" transform="rotate(-30 436.1 1178.5)"/>
<use href="#wm" x="539.3" y="1118.9" transform="rotate(-30 539.3 1118.9)"/>
<use href="#wm" x="642.5" y="1059.4" transform="rotate(-30 642.5 1059.4)"/>
<use href="#wm" x="745.6" y="999.8" transform="rotate(-30 745.6 999.8)"/>
<use href="#wm" x="848.8" y="940.2" transform="rotate(-30 848.8 940.2)"/>
<use href="#wm" x="952.0" y="880.7" transform="rotate(-30 952.0 880.7)"/>
<use href="#wm" x="1055.1" y="821.1" transform="rotate(-30 1055.1 821.1)"/>
<use href="#wm" x="1158.3" y="761.6" transform="rotate(-30 1158.3 761.6)"/>
<use href="#wm" x="1261.4" y="702.0" transform="rotate(-30 1261.4 702.0)"/>
<use href="#wm" x="1364.6" y="642.4" transform="rotate(-30 1364.6 642.4)"/>
<use href="#wm" x="1467.8" y="582.9" transform="rotate(-30 1467.8 582.9)"/>
<use href="#wm" x="1570.9" y="523.3" transform="rotate(-30 1570.9 523.3)"/>
<use href="#wm" x="406.6" y="1246.4" transform="rotate(-30 406.6 1246.4)"/>
<use href="#wm" x="509.8" y="1186.9" transform="rotate(-30 509.8 1186.9)"/>
<use href="#wm" x="612.9" y="1127.3" transform="rotate(-30 612.9 1127.3)"/>
<use href="#wm" x="716.1" y="1067.8" transform="rotate(-30 716.1 1067.8)"/>
<use href="#wm" x="819.3" y="1008.2" transform="rotate(-30 819.3 1008.2)"/>
<use href="#wm" x="922.4" y="948.6" transform="rotate(-30 922.4 948.6)"/>
<use href="#wm" x="1025.6" y="889.1" transform="rotate(-30 1025.6 889.1)"/>
<use href="#wm" x="1128.7" y="829.5" transform="rotate(-30 1128.7 829.5)"/>
<use href="#wm" x="1231.9" y="770.0" transform="rotate(-30 1231.9 770.0)"/>
<use href="#wm" x="1335.1" y="710.4" transform="rotate(-30 1335.1 710.4)"/>
<use href="#wm" x="1438.2" y="650.8" transform="rotate(-30 1438.2 650.8)"/>
<use href="#wm" x="1541.4" y="591.3" transform="rotate(-30 1541.4 591.3)"/>
<use href="#wm" x="480.2" y="1254.8" transform="rotate(-30 480.2 1254.8)"/>
<use href="#wm" x="583.4" y="1195.3" transform="rotate(-30 583.4 1195.3)"/>
<use href="#wm" x="686.6" y="1135.7" transform="rotate(-30 686.6 1135.7)"/>
<use href="#wm" x="789.7" y="1076.2" transform="rotate(-30 789.7 1076.2)"/>
<use href="#wm" x="892.9" y="1016.6" transform="rotate(-30 892.9 1016.6)"/>
<use href="#wm" x="996.0" y="957.0" transform="rotate(-30 996.0 957.0)"/>
<use href="#wm" x="1099.2" y="897.5" transform="rotate(-30 1099.2 897.5)"/>
<use href="#wm" x="1202.4" y="837.9" transform="rotate(-30 1202.4 837.9)"/>
<use href="#wm" x="1305.5" y="778.4" transform="rotate(-30 1305.5 778.4)"/>
<use href="#wm" x="1408.7" y="718.8" transform="rotate(-30 1408.7 718.8)"/>
<use href="#wm" x="1511.8" y="659.2" transform="rotate(-30 1511.8 659.2)"/>
<use href="#wm" x="1615.0" y="599.7" transform="rotate(-30 1615.0 599.7)"/>
<use href="#wm" x="553.9" y="1263.2" transform="rotate(-30 553.9 1263.2)"/>
<use href="#wm" x="657.0" y="1203.7" transform="rotate(-30 657.0 1203.7)"/>
<use href="#wm" x="760.2" y="1144.1" transform="rotate(-30 760.2 1144.1)"/>
<use href="#wm" x="863.3" y="1084.6" transform="rotate(-30 863.3 1084.6)"/>
<use href="#wm" x="966.5" y="1025.0" transform="rotate(-30 966.5 1025.0)"/>
<use href="#wm" x="1069.7" y="965.4" transform="rotate(-30 1069.7 965.4)"/>
<use href="#wm" x="1172.8" y="905.9" transform="rotate(-30 1172.8 905.9)"/>
<use href="#wm" x="1276.0" y="846.3" transform="rotate(-30 1276.0 846.3)"/>
<use href="#wm" x="1379.2" y="786.8" transform="rotate(-30 1379.2 786.8)"/>
<use href="#wm" x="1482.3" y="727.2" transform="rotate(-30 1482.3 727.2)"/>
<use href="#wm" x="1585.5" y="667.6" transform="rotate(-30 1585.5 667.6)"/>
<use href="#wm" x="627.5" y="1271.7" transform="rotate(-30 627.5 1271.7)"/>
<use href="#wm" x="730.6" y="1212.1" transform="rotate(-30 730.6 1212.1)"/>
<use href="#wm" x="833.8" y="1152.5" transform="rotate(-30 833.8 1152.5)"/>
<use href="#wm" x="937.0" y="1093.0" transform="rotate(-30 937.0 1093.0)"/>
<use href="#wm" x="1040.1" y="1033.4" transform="rotate(-30 1040.1 1033.4)"/>
<use href="#wm" x="1143.3" y="973.9" transform="rotate(-30 1143.3 973.9)"/>
<use href="#wm" x="1246.5" y="914.3" transform="rotate(-30 1246.5 914.3)"/>
<use href="#wm" x="1349.6" y="854.7" transform="rotate(-30 1349.6 854.7)"/>
<use href="#wm" x="1452.8" y="795.2" transform="rotate(-30 1452.8 795.2)"/>
<use href="#wm" x="1555.9" y="735.6" transform="rotate(-30 1555.9 735.6)"/>
<use href="#wm" x="701.1" y="1280.1" transform="rotate(-30 701.1 1280.1)"/>
<use href="#wm" x="804.3" y="1220.5" transform="rotate(-30 804.3 1220.5)"/>
<use href="#wm" x="907.4" y="1160.9" transform="rotate(-30 907.4 1160.9)"/>
<use href="#wm" x="1010.6" y="1101.4" transform="rotate(-30 1010.6 1101.4)"/>
<use href="#wm" x="1113.8" y="1041.8" transform="rotate(-30 1113.8 1041.8)"/>
<use href="#wm" x="1216.9" y="982.3" transform="rotate(-30 1216.9 982.3)"/>
<use href="#wm" x="1320.1" y="922.7" transform="rotate(-30 1320.1 922.7)"/>
<use href="#wm" x="1423.2" y="863.1" transform="rotate(-30 1423.2 863.1)"/>
<use href="#wm" x="1526.4" y="803.6" transform="rotate(-30 1526.4 803.6)"/>
<use href="#wm" x="774.7" y="1288.5" transform="rotate(-30 774.7 1288.5)"/>
<use href="#wm" x="877.9" y="1228.9" transform="rotate(-30 877.9 1228.9)"/>
<use href="#wm" x="981.1" y="1169.3" transform="rotate(-30 981.1 1169.3)"/>
<use href="#wm" x="1084.2" y="1109.8" transform="rotate(-30 1084.2 1109.8)"/>
<use href="#wm" x="1187.4" y="1050.2" transform="rotate(-30 1187.4 1050.2)"/>
<use href="#wm" x="1290.5" y="990.7" transform="rotate(-30 1290.5 990.7)"/>
<use href="#wm" x="1393.7" y="931.1" transform="rotate(-30 1393.7 931.1)"/>
<use href="#wm" x="1496.9" y="871.5" transform="rotate(-30 1496.9 871.5)"/>
<use href="#wm" x="1600.0" y="812.0" transform="rotate(-30 1600.0 812.0)"/>
<use href="#wm" x="848.4" y="1296.9" transform="rotate(-30 848.4 1296.9)"/>
<use href="#wm" x="951.5" y="1237.3" transform="rotate(-30 951.5 1237.3)"/>
<use href="#wm" x="1054.7" y="1177.7" transform="rotate(-30 1054.7 1177.7)"/>
<use href="#wm" x="1157.8" y="1118.2" transform="rotate(-30 1157.8 1118.2)"/>
<use href="#wm" x="1261.0" y="1058.6" transform="rotate(-30 1261.0 1058.6)"/>
<use href="#wm" x="1364.2" y="999.1" transform="rotate(-30 1364.2 999.1)"/>
<use href="#wm" x="1467.3" y="939.5" transform="rotate(-30 1467.3 939.5)"/>
<use href="#wm" x="1570.5" y="879.9" transform="rotate(-30 1570.5 879.9)"/>
<use href="#wm" x="1025.2" y="1245.7" transform="rotate(-30 1025.2 1245.7)"/>
<use href="#wm" x="1128.3" y="1186.1" transform="rotate(-30 1128.3 1186.1)"/>
<use href="#wm" x="1231.5" y="1126.6" transform="rotate(-30 1231.5 1126.6)"/>
<use href="#wm" x="1334.6" y="1067.0" transform="rotate(-30 1334.6 1067.0)"/>
<use href="#wm" x="1437.8" y="1007.5" transform="rotate(-30 1437.8 1007.5)"/>
<use href="#wm" x="1541.0" y="947.9" transform="rotate(-30 1541.0 947.9)"/>
<use href="#wm" x="1098.8" y="1254.1" transform="rotate(-30 1098.8 1254.1)"/>
<use href="#wm" x="1201.9" y="1194.5" transform="rotate(-30 1201.9 1194.5)"/>
<use href="#wm" x="1305.1" y="1135.0" transform="rotate(-30 1305.1 1135.0)"/>
<use href="#wm" x="1408.3" y="1075.4" transform="rotate(-30 1408.3 1075.4)"/>
<use href="#wm" x="1511.4" y="1015.9" transform="rotate(-30 1511.4 1015.9)"/>
<use href="#wm" x="1614.6" y="956.3" transform="rotate(-30 1614.6 956.3)"/>
<use href="#wm" x="1172.4" y="1262.5" transform="rotate(-30 1172.4 1262.5)"/>
<use href="#wm" x="1275.6" y="1203.0" transform="rotate(-30 1275.6 1203.0)"/>
<use href="#wm" x="1378.7" y="1143.4" transform="rotate(-30 1378.7 1143.4)"/>
<use href="#wm" x="1481.9" y="1083.8" transform="rotate(-30 1481.9 1083.8)"/>
<use href="#wm" x="1585.0" y="1024.3" transform="rotate(-30 1585.0 1024.3)"/>
<use href="#wm" x="1246.0" y="1270.9" transform="rotate(-30 1246.0 1270.9)"/>
<use href="#wm" x="1349.2" y="1211.4" transform="rotate(-30 1349.2 1211.4)"/>
<use href="#wm" x="1452.4" y="1151.8" transform="rotate(-30 1452.4 1151.8)"/>
<use href="#wm" x="1555.5" y="1092.2" transform="rotate(-30 1555.5 1092.2)"/>
<use href="#wm" x="1319.7" y="1279.3" transform="rotate(-30 1319.7 1279.3)"/>
<use href="#wm" x="1422.8" y="1219.8" transform="rotate(-30 1422.8 1219.8)"/>
<use href="#wm" x="1526.0" y="1160.2" transform="rotate(-30 1526.0 1160.2)"/>
<use href="#wm" x="1393.3" y="1287.7" transform="rotate(-30 1393.3 1287.7)"/>
<use href="#wm" x="1496.4" y="1228.2" transform="rotate(-30 1496.4 1228.2)"/>
<use href="#wm" x="1599.6" y="1168.6" transform="rotate(-30 1599.6 1168.6)"/>
<use href="#wm" x="1466.9" y="1296.1" transform="rotate(-30 1466.9 1296.1)"/>
<use href="#wm" x="1570.1" y="1236.6" transform="rotate(-30 1570.1 1236.6)"/>
</g>
</svg>
</body></html>
